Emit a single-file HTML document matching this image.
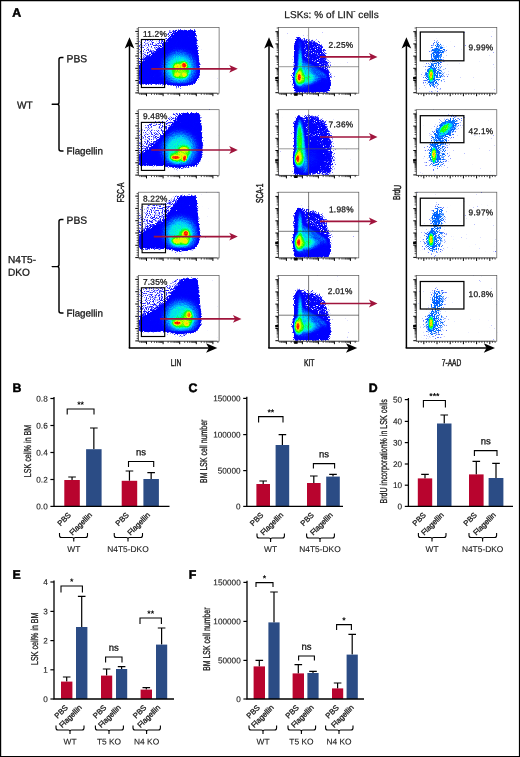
<!DOCTYPE html>
<html lang="en"><head><meta charset="utf-8"><title>Figure</title>
<style>
html,body{margin:0;padding:0;background:#fff;}
body{width:520px;height:757px;overflow:hidden;}
svg{display:block;font-family:"Liberation Sans",sans-serif;}
</style></head><body>
<svg width="520" height="757" viewBox="0 0 520 757">
<rect width="520" height="757" fill="#fff"/>
<defs><filter id="dens" x="0.21307" y="0.23866" width="0.57386" height="0.52267" color-interpolation-filters="sRGB">
  <feGaussianBlur in="SourceGraphic" stdDeviation="0.45" result="d"/>
  <feTurbulence type="fractalNoise" baseFrequency="0.93" numOctaves="2" seed="4" result="n"/>
  <feColorMatrix in="n" type="matrix" values="1 0 0 0 0  1 0 0 0 0  1 0 0 0 0  0 0 0 0 1" result="ng"/>
  <feColorMatrix in="n" type="matrix" values="0 1 0 0 0  0 1 0 0 0  0 1 0 0 0  0 0 0 0 1" result="ng2"/>
  <feComposite in="d" in2="ng" operator="arithmetic" k1="0" k2="2" k3="0.8" k4="-0.4" result="dn"/>
  <feColorMatrix in="dn" type="matrix" values="0 0 0 0 0  0 0 0 0 0  0 0 0 0 0  9 0 0 0 -2.2" result="mask"/>
  <feComposite in="d" in2="ng2" operator="arithmetic" k1="0" k2="1" k3="0.12" k4="-0.06" result="dc"/>
  <feComponentTransfer in="dc" result="col">
    <feFuncR type="table" tableValues="0.32 0.27 0.2 0.1 0.03 0 0 0 0 0 0 0 0 0 0.1 0.5 0.9 1 1 1 1"/>
    <feFuncG type="table" tableValues="0.32 0.27 0.2 0.1 0.03 0 0 0.02 0.1 0.3 0.55 0.8 1 1 1 1 1 0.9 0.6 0.3 0"/>
    <feFuncB type="table" tableValues="1 1 1 1 1 1 1 1 1 1 1 1 0.8 0.3 0 0 0 0 0 0 0"/>
  </feComponentTransfer>
  <feComposite in="col" in2="mask" operator="in" result="o"/>
  <feGaussianBlur in="o" stdDeviation="0.3"/>
</filter>
<filter id="dens3" x="0.21307" y="0.23866" width="0.57386" height="0.52267" color-interpolation-filters="sRGB">
  <feGaussianBlur in="SourceGraphic" stdDeviation="0.45" result="d"/>
  <feTurbulence type="fractalNoise" baseFrequency="0.93" numOctaves="2" seed="4" result="n"/>
  <feColorMatrix in="n" type="matrix" values="1 0 0 0 0  1 0 0 0 0  1 0 0 0 0  0 0 0 0 1" result="ng"/>
  <feColorMatrix in="n" type="matrix" values="0 1 0 0 0  0 1 0 0 0  0 1 0 0 0  0 0 0 0 1" result="ng2"/>
  <feComposite in="d" in2="ng" operator="arithmetic" k1="0" k2="1" k3="0.9" k4="-0.45" result="dn"/>
  <feColorMatrix in="dn" type="matrix" values="0 0 0 0 0  0 0 0 0 0  0 0 0 0 0  9 0 0 0 -2.2" result="mask"/>
  <feComposite in="d" in2="ng2" operator="arithmetic" k1="0" k2="1" k3="0.25" k4="-0.125" result="dc"/>
  <feComponentTransfer in="dc" result="col">
    <feFuncR type="table" tableValues="0.4 0.4 0.38 0.34 0.28 0 0 0 0 0 0 0 0 0 0.1 0.5 0.9 1 1 1 1"/>
    <feFuncG type="table" tableValues="0.45 0.45 0.45 0.45 0.42 0.4 0.4 0.42 0.45 0.3 0.55 0.8 1 1 1 1 1 0.9 0.6 0.3 0"/>
    <feFuncB type="table" tableValues="1 1 1 1 1 1 1 1 1 1 1 1 0.8 0.3 0 0 0 0 0 0 0"/>
  </feComponentTransfer>
  <feComposite in="col" in2="mask" operator="in" result="o"/>
  <feGaussianBlur in="o" stdDeviation="0.3"/>
</filter>

<filter id="s3" x="-50%" y="-50%" width="200%" height="200%"><feGaussianBlur stdDeviation="3.2"/></filter>
<filter id="s2" x="-50%" y="-50%" width="200%" height="200%"><feGaussianBlur stdDeviation="2"/></filter>
<filter id="s1" x="-50%" y="-50%" width="200%" height="200%"><feGaussianBlur stdDeviation="0.8"/></filter>
<radialGradient id="rg"><stop offset="0" stop-color="#fff" stop-opacity="1"/><stop offset="0.5" stop-color="#fff" stop-opacity="0.7"/><stop offset="1" stop-color="#fff" stop-opacity="0"/></radialGradient>
<radialGradient id="rg3"><stop offset="0" stop-color="#fff" stop-opacity="1"/><stop offset="0.45" stop-color="#fff" stop-opacity="0.9"/><stop offset="0.75" stop-color="#fff" stop-opacity="0.45"/><stop offset="1" stop-color="#fff" stop-opacity="0"/></radialGradient>
<linearGradient id="band" x1="1" y1="1" x2="0" y2="0"><stop offset="0.5" stop-color="#fff" stop-opacity="0.14"/><stop offset="0.62" stop-color="#fff" stop-opacity="0.125"/><stop offset="0.78" stop-color="#fff" stop-opacity="0.105"/><stop offset="0.95" stop-color="#fff" stop-opacity="0.075"/></linearGradient>
<radialGradient id="rg2"><stop offset="0" stop-color="#fff" stop-opacity="1"/><stop offset="0.6" stop-color="#fff" stop-opacity="0.9"/><stop offset="1" stop-color="#fff" stop-opacity="0"/></radialGradient>
</defs>

<g filter="url(#dens)"><rect x="108.30" y="-2.50" width="140.8" height="125.7" fill="#000"/>
<path d="M138.3,64.0L164.3,45.0L177.3,30.0h-9L165.3,38.5L138.3,40.0z" fill="url(#band)"/>
<polygon points="138.8,64.0 164.3,45.0 174.3,33.0 177.3,30.0 195.3,30.0 196.8,39.5 199.8,67.5 199.3,77.5 194.3,84.5 138.8,84.5" fill="#fff" fill-opacity="0.3" filter="url(#s1)"/>
<ellipse cx="179.3" cy="68.0" rx="22" ry="22" fill="url(#rg3)" fill-opacity="0.43"/>
<ellipse cx="180.6" cy="70.2" rx="11.5" ry="11.5" fill="url(#rg)" fill-opacity="0.27"/>
<ellipse cx="180.6" cy="70.2" rx="9.5" ry="9.5" fill="url(#rg2)" fill-opacity="0.2"/>
<ellipse cx="184.2" cy="65.2" rx="4.4" ry="4.6" fill="url(#rg)" fill-opacity="0.45"/>
<ellipse cx="184.2" cy="65.2" rx="3.0" ry="3.1999999999999997" fill="url(#rg2)" fill-opacity="0.9"/>
<ellipse cx="177.0" cy="66.2" rx="4.8" ry="4.2" fill="url(#rg)" fill-opacity="0.32"/>
<ellipse cx="177.0" cy="66.2" rx="3.4" ry="2.8" fill="url(#rg)" fill-opacity="0.21"/>
<ellipse cx="176.8" cy="75.0" rx="4.8" ry="3.8" fill="url(#rg)" fill-opacity="0.32"/>
<ellipse cx="176.8" cy="75.0" rx="3.4" ry="2.4" fill="url(#rg)" fill-opacity="0.21"/>
<ellipse cx="184.5" cy="75.0" rx="4.2" ry="4.0" fill="url(#rg)" fill-opacity="0.32"/>
<ellipse cx="184.5" cy="75.0" rx="2.8" ry="2.6" fill="url(#rg)" fill-opacity="0.27999999999999997"/>
</g>
<rect x="138.30" y="27.50" width="80.80" height="65.70" fill="none" stroke="#555" stroke-width="0.7"/>
<path d="M146.5,93.2v3 M163.1,93.2v3 M179.7,93.2v3 M196.3,93.2v3 M212.9,93.2v3 M138.3,92.9h-3 M138.3,80.6h-3 M138.3,68.3h-3 M138.3,56.0h-3 M138.3,43.7h-3 M138.3,31.4h-3" stroke="#000" stroke-width="1" fill="none"/>
<path d="M139.9,93.2v1.7 M141.5,93.2v1.7 M142.8,93.2v1.7 M143.9,93.2v1.7 M144.9,93.2v1.7 M145.7,93.2v1.7 M151.5,93.2v1.7 M154.4,93.2v1.7 M156.5,93.2v1.7 M158.1,93.2v1.7 M159.4,93.2v1.7 M160.5,93.2v1.7 M161.5,93.2v1.7 M162.3,93.2v1.7 M168.1,93.2v1.7 M171.0,93.2v1.7 M173.1,93.2v1.7 M174.7,93.2v1.7 M176.0,93.2v1.7 M177.1,93.2v1.7 M178.1,93.2v1.7 M178.9,93.2v1.7 M184.7,93.2v1.7 M187.6,93.2v1.7 M189.7,93.2v1.7 M191.3,93.2v1.7 M192.6,93.2v1.7 M193.7,93.2v1.7 M194.7,93.2v1.7 M195.5,93.2v1.7 M201.3,93.2v1.7 M204.2,93.2v1.7 M206.3,93.2v1.7 M207.9,93.2v1.7 M209.2,93.2v1.7 M210.3,93.2v1.7 M211.3,93.2v1.7 M212.1,93.2v1.7 M217.9,93.2v1.7 M138.3,90.4h-1.7 M138.3,88.0h-1.7 M138.3,85.5h-1.7 M138.3,83.1h-1.7 M138.3,78.1h-1.7 M138.3,75.7h-1.7 M138.3,73.2h-1.7 M138.3,70.8h-1.7 M138.3,65.8h-1.7 M138.3,63.4h-1.7 M138.3,60.9h-1.7 M138.3,58.5h-1.7 M138.3,53.5h-1.7 M138.3,51.1h-1.7 M138.3,48.6h-1.7 M138.3,46.2h-1.7 M138.3,41.2h-1.7 M138.3,38.8h-1.7 M138.3,36.3h-1.7 M138.3,33.9h-1.7 M138.3,28.9h-1.7" stroke="#000" stroke-width="0.7" fill="none"/>
<path d="M138.3,93.20h78.8M138.30,29.5v63.7" stroke="#333" stroke-width="0.6" fill="none"/>
<rect x="141.4" y="39.5" width="23.2" height="48" fill="none" stroke="#000" stroke-width="1.15"/>
<text transform="translate(142.90,36.70) rotate(0.03)" font-size="8.3" text-anchor="start" font-weight="normal" fill="#1a1a1a" letter-spacing="0.25" stroke="#1a1a1a" stroke-width="0.28">11.2%</text>
<path d="M151.3,68.8H232.8" stroke="#a0143c" stroke-width="1.7" fill="none"/>
<path d="M237.8,68.8l-8.6,-3.9l2.2,3.9l-2.2,3.9z" fill="#a0143c"/>
<g filter="url(#dens)"><rect x="108.30" y="79.70" width="140.8" height="125.7" fill="#000"/>
<path d="M138.3,155.7L164.3,135.7L182.3,112.7h-9L165.3,120.7L138.3,122.2z" fill="url(#band)"/>
<polygon points="138.8,155.7 164.3,135.7 179.3,115.7 182.3,112.7 199.3,112.7 201.3,121.7 202.8,149.7 201.3,159.7 196.3,166.0 138.8,166.0" fill="#fff" fill-opacity="0.3" filter="url(#s1)"/>
<ellipse cx="179.3" cy="149.2" rx="23" ry="23" fill="url(#rg3)" fill-opacity="0.43"/>
<ellipse cx="177.3" cy="157.2" rx="11" ry="7.5" fill="url(#rg)" fill-opacity="0.27"/>
<ellipse cx="183.8" cy="151.7" rx="9" ry="8.5" fill="url(#rg)" fill-opacity="0.27"/>
<ellipse cx="177.3" cy="157.2" rx="9" ry="5.5" fill="url(#rg2)" fill-opacity="0.2"/>
<ellipse cx="183.8" cy="151.7" rx="7" ry="6.5" fill="url(#rg2)" fill-opacity="0.2"/>
<ellipse cx="175.5" cy="157.5" rx="6.3999999999999995" ry="3.5" fill="url(#rg)" fill-opacity="0.45"/>
<ellipse cx="175.5" cy="157.5" rx="5.0" ry="2.1" fill="url(#rg2)" fill-opacity="0.85"/>
<ellipse cx="184.6" cy="158.4" rx="3.6" ry="5.0" fill="url(#rg)" fill-opacity="0.45" transform="rotate(15 184.6 158.4)"/>
<ellipse cx="184.6" cy="158.4" rx="2.2" ry="3.6" fill="url(#rg2)" fill-opacity="0.9" transform="rotate(15 184.6 158.4)"/>
<ellipse cx="184.3" cy="149.2" rx="6.3" ry="3.8" fill="url(#rg)" fill-opacity="0.32"/>
<ellipse cx="184.3" cy="149.2" rx="4.9" ry="2.4" fill="url(#rg)" fill-opacity="0.13999999999999999"/>
</g>
<rect x="138.30" y="109.70" width="80.80" height="65.70" fill="none" stroke="#555" stroke-width="0.7"/>
<path d="M146.5,175.4v3 M163.1,175.4v3 M179.7,175.4v3 M196.3,175.4v3 M212.9,175.4v3 M138.3,175.1h-3 M138.3,162.8h-3 M138.3,150.5h-3 M138.3,138.2h-3 M138.3,125.9h-3 M138.3,113.6h-3" stroke="#000" stroke-width="1" fill="none"/>
<path d="M139.9,175.4v1.7 M141.5,175.4v1.7 M142.8,175.4v1.7 M143.9,175.4v1.7 M144.9,175.4v1.7 M145.7,175.4v1.7 M151.5,175.4v1.7 M154.4,175.4v1.7 M156.5,175.4v1.7 M158.1,175.4v1.7 M159.4,175.4v1.7 M160.5,175.4v1.7 M161.5,175.4v1.7 M162.3,175.4v1.7 M168.1,175.4v1.7 M171.0,175.4v1.7 M173.1,175.4v1.7 M174.7,175.4v1.7 M176.0,175.4v1.7 M177.1,175.4v1.7 M178.1,175.4v1.7 M178.9,175.4v1.7 M184.7,175.4v1.7 M187.6,175.4v1.7 M189.7,175.4v1.7 M191.3,175.4v1.7 M192.6,175.4v1.7 M193.7,175.4v1.7 M194.7,175.4v1.7 M195.5,175.4v1.7 M201.3,175.4v1.7 M204.2,175.4v1.7 M206.3,175.4v1.7 M207.9,175.4v1.7 M209.2,175.4v1.7 M210.3,175.4v1.7 M211.3,175.4v1.7 M212.1,175.4v1.7 M217.9,175.4v1.7 M138.3,172.6h-1.7 M138.3,170.2h-1.7 M138.3,167.7h-1.7 M138.3,165.3h-1.7 M138.3,160.3h-1.7 M138.3,157.9h-1.7 M138.3,155.4h-1.7 M138.3,153.0h-1.7 M138.3,148.0h-1.7 M138.3,145.6h-1.7 M138.3,143.1h-1.7 M138.3,140.7h-1.7 M138.3,135.7h-1.7 M138.3,133.3h-1.7 M138.3,130.8h-1.7 M138.3,128.4h-1.7 M138.3,123.4h-1.7 M138.3,121.0h-1.7 M138.3,118.5h-1.7 M138.3,116.1h-1.7 M138.3,111.1h-1.7" stroke="#000" stroke-width="0.7" fill="none"/>
<path d="M138.3,175.40h78.8M138.30,111.7v63.7" stroke="#333" stroke-width="0.6" fill="none"/>
<rect x="141.4" y="122.4" width="23.2" height="48" fill="none" stroke="#000" stroke-width="1.15"/>
<text transform="translate(142.90,118.90) rotate(0.03)" font-size="8.3" text-anchor="start" font-weight="normal" fill="#1a1a1a" letter-spacing="0.25" stroke="#1a1a1a" stroke-width="0.28">9.48%</text>
<path d="M151.3,150.0H232.8" stroke="#a0143c" stroke-width="1.7" fill="none"/>
<path d="M237.8,150.0l-8.6,-3.9l2.2,3.9l-2.2,3.9z" fill="#a0143c"/>
<g filter="url(#dens)"><rect x="108.30" y="162.20" width="140.8" height="125.7" fill="#000"/>
<path d="M138.3,233.7L164.3,220.2L182.3,195.4h-9L165.3,203.2L138.3,204.7z" fill="url(#band)"/>
<polygon points="138.8,233.7 164.3,220.2 179.3,198.4 182.3,195.4 196.3,195.4 197.3,204.2 199.3,232.2 198.8,242.2 194.3,249.0 138.8,249.0" fill="#fff" fill-opacity="0.3" filter="url(#s1)"/>
<ellipse cx="180.3" cy="233.7" rx="22" ry="22" fill="url(#rg3)" fill-opacity="0.43"/>
<ellipse cx="185.3" cy="236.7" rx="8" ry="10.5" fill="url(#rg)" fill-opacity="0.27"/>
<ellipse cx="178.3" cy="240.7" rx="10" ry="7" fill="url(#rg)" fill-opacity="0.27"/>
<ellipse cx="185.3" cy="236.7" rx="6" ry="8.5" fill="url(#rg2)" fill-opacity="0.2"/>
<ellipse cx="178.3" cy="240.7" rx="8" ry="5" fill="url(#rg2)" fill-opacity="0.2"/>
<ellipse cx="185.9" cy="233.5" rx="4.4" ry="4.6" fill="url(#rg)" fill-opacity="0.45"/>
<ellipse cx="185.9" cy="233.5" rx="3.0" ry="3.1999999999999997" fill="url(#rg2)" fill-opacity="0.9"/>
<ellipse cx="176.4" cy="241.2" rx="5.4" ry="3.8" fill="url(#rg)" fill-opacity="0.32"/>
<ellipse cx="176.4" cy="241.2" rx="4.0" ry="2.4" fill="url(#rg)" fill-opacity="0.24499999999999997"/>
<ellipse cx="186.0" cy="242.0" rx="4.0" ry="4.2" fill="url(#rg)" fill-opacity="0.32"/>
<ellipse cx="186.0" cy="242.0" rx="2.6" ry="2.8" fill="url(#rg)" fill-opacity="0.21"/>
</g>
<rect x="138.30" y="192.20" width="80.80" height="65.70" fill="none" stroke="#555" stroke-width="0.7"/>
<path d="M146.5,257.9v3 M163.1,257.9v3 M179.7,257.9v3 M196.3,257.9v3 M212.9,257.9v3 M138.3,257.6h-3 M138.3,245.3h-3 M138.3,233.0h-3 M138.3,220.7h-3 M138.3,208.4h-3 M138.3,196.1h-3" stroke="#000" stroke-width="1" fill="none"/>
<path d="M139.9,257.9v1.7 M141.5,257.9v1.7 M142.8,257.9v1.7 M143.9,257.9v1.7 M144.9,257.9v1.7 M145.7,257.9v1.7 M151.5,257.9v1.7 M154.4,257.9v1.7 M156.5,257.9v1.7 M158.1,257.9v1.7 M159.4,257.9v1.7 M160.5,257.9v1.7 M161.5,257.9v1.7 M162.3,257.9v1.7 M168.1,257.9v1.7 M171.0,257.9v1.7 M173.1,257.9v1.7 M174.7,257.9v1.7 M176.0,257.9v1.7 M177.1,257.9v1.7 M178.1,257.9v1.7 M178.9,257.9v1.7 M184.7,257.9v1.7 M187.6,257.9v1.7 M189.7,257.9v1.7 M191.3,257.9v1.7 M192.6,257.9v1.7 M193.7,257.9v1.7 M194.7,257.9v1.7 M195.5,257.9v1.7 M201.3,257.9v1.7 M204.2,257.9v1.7 M206.3,257.9v1.7 M207.9,257.9v1.7 M209.2,257.9v1.7 M210.3,257.9v1.7 M211.3,257.9v1.7 M212.1,257.9v1.7 M217.9,257.9v1.7 M138.3,255.1h-1.7 M138.3,252.7h-1.7 M138.3,250.2h-1.7 M138.3,247.8h-1.7 M138.3,242.8h-1.7 M138.3,240.4h-1.7 M138.3,237.9h-1.7 M138.3,235.5h-1.7 M138.3,230.5h-1.7 M138.3,228.1h-1.7 M138.3,225.6h-1.7 M138.3,223.2h-1.7 M138.3,218.2h-1.7 M138.3,215.8h-1.7 M138.3,213.3h-1.7 M138.3,210.9h-1.7 M138.3,205.9h-1.7 M138.3,203.5h-1.7 M138.3,201.0h-1.7 M138.3,198.6h-1.7 M138.3,193.6h-1.7" stroke="#000" stroke-width="0.7" fill="none"/>
<path d="M138.3,257.90h78.8M138.30,194.2v63.7" stroke="#333" stroke-width="0.6" fill="none"/>
<rect x="142.1" y="204.1" width="23.4" height="48.6" fill="none" stroke="#000" stroke-width="1.15"/>
<text transform="translate(142.90,201.40) rotate(0.03)" font-size="8.3" text-anchor="start" font-weight="normal" fill="#1a1a1a" letter-spacing="0.25" stroke="#1a1a1a" stroke-width="0.28">8.22%</text>
<path d="M153.8,236.6H232.8" stroke="#a0143c" stroke-width="1.7" fill="none"/>
<path d="M237.8,236.6l-8.6,-3.9l2.2,3.9l-2.2,3.9z" fill="#a0143c"/>
<g filter="url(#dens)"><rect x="108.30" y="245.50" width="140.8" height="125.7" fill="#000"/>
<path d="M138.3,318.5L164.3,304.0L184.3,278.5h-9L165.3,286.5L138.3,288.0z" fill="url(#band)"/>
<polygon points="138.8,318.5 164.3,304.0 181.3,281.5 184.3,278.5 197.3,278.5 198.8,287.5 200.8,315.5 200.3,325.5 195.3,332.1 138.8,332.1" fill="#fff" fill-opacity="0.3" filter="url(#s1)"/>
<ellipse cx="181.3" cy="317.0" rx="23" ry="22" fill="url(#rg3)" fill-opacity="0.43"/>
<ellipse cx="187.8" cy="318.5" rx="7.5" ry="11.5" fill="url(#rg)" fill-opacity="0.27"/>
<ellipse cx="179.3" cy="323.0" rx="10.5" ry="7" fill="url(#rg)" fill-opacity="0.27"/>
<ellipse cx="187.8" cy="318.5" rx="5.5" ry="9.5" fill="url(#rg2)" fill-opacity="0.2"/>
<ellipse cx="179.3" cy="323.0" rx="8.5" ry="5" fill="url(#rg2)" fill-opacity="0.2"/>
<ellipse cx="177.3" cy="323.0" rx="5.6" ry="3.4000000000000004" fill="url(#rg)" fill-opacity="0.45"/>
<ellipse cx="177.3" cy="323.0" rx="4.2" ry="2.0" fill="url(#rg2)" fill-opacity="0.9"/>
<ellipse cx="189.0" cy="314.8" rx="3.6" ry="4.8" fill="url(#rg)" fill-opacity="0.45"/>
<ellipse cx="189.0" cy="314.8" rx="2.2" ry="3.4" fill="url(#rg2)" fill-opacity="0.55"/>
<ellipse cx="186.8" cy="324.3" rx="4.0" ry="4.2" fill="url(#rg)" fill-opacity="0.32"/>
<ellipse cx="186.8" cy="324.3" rx="2.6" ry="2.8" fill="url(#rg)" fill-opacity="0.21"/>
</g>
<rect x="138.30" y="275.50" width="80.80" height="65.70" fill="none" stroke="#555" stroke-width="0.7"/>
<path d="M146.5,341.2v3 M163.1,341.2v3 M179.7,341.2v3 M196.3,341.2v3 M212.9,341.2v3 M138.3,340.9h-3 M138.3,328.6h-3 M138.3,316.3h-3 M138.3,304.0h-3 M138.3,291.7h-3 M138.3,279.4h-3" stroke="#000" stroke-width="1" fill="none"/>
<path d="M139.9,341.2v1.7 M141.5,341.2v1.7 M142.8,341.2v1.7 M143.9,341.2v1.7 M144.9,341.2v1.7 M145.7,341.2v1.7 M151.5,341.2v1.7 M154.4,341.2v1.7 M156.5,341.2v1.7 M158.1,341.2v1.7 M159.4,341.2v1.7 M160.5,341.2v1.7 M161.5,341.2v1.7 M162.3,341.2v1.7 M168.1,341.2v1.7 M171.0,341.2v1.7 M173.1,341.2v1.7 M174.7,341.2v1.7 M176.0,341.2v1.7 M177.1,341.2v1.7 M178.1,341.2v1.7 M178.9,341.2v1.7 M184.7,341.2v1.7 M187.6,341.2v1.7 M189.7,341.2v1.7 M191.3,341.2v1.7 M192.6,341.2v1.7 M193.7,341.2v1.7 M194.7,341.2v1.7 M195.5,341.2v1.7 M201.3,341.2v1.7 M204.2,341.2v1.7 M206.3,341.2v1.7 M207.9,341.2v1.7 M209.2,341.2v1.7 M210.3,341.2v1.7 M211.3,341.2v1.7 M212.1,341.2v1.7 M217.9,341.2v1.7 M138.3,338.4h-1.7 M138.3,336.0h-1.7 M138.3,333.5h-1.7 M138.3,331.1h-1.7 M138.3,326.1h-1.7 M138.3,323.7h-1.7 M138.3,321.2h-1.7 M138.3,318.8h-1.7 M138.3,313.8h-1.7 M138.3,311.4h-1.7 M138.3,308.9h-1.7 M138.3,306.5h-1.7 M138.3,301.5h-1.7 M138.3,299.1h-1.7 M138.3,296.6h-1.7 M138.3,294.2h-1.7 M138.3,289.2h-1.7 M138.3,286.8h-1.7 M138.3,284.3h-1.7 M138.3,281.9h-1.7 M138.3,276.9h-1.7" stroke="#000" stroke-width="0.7" fill="none"/>
<path d="M138.3,341.20h78.8M138.30,277.5v63.7" stroke="#333" stroke-width="0.6" fill="none"/>
<rect x="141.4" y="287.8" width="23.3" height="48.7" fill="none" stroke="#000" stroke-width="1.15"/>
<text transform="translate(142.90,284.70) rotate(0.03)" font-size="8.3" text-anchor="start" font-weight="normal" fill="#1a1a1a" letter-spacing="0.25" stroke="#1a1a1a" stroke-width="0.28">7.35%</text>
<path d="M160.0,318.9H236.5" stroke="#a0143c" stroke-width="1.7" fill="none"/>
<path d="M241.5,318.9l-8.6,-3.9l2.2,3.9l-2.2,3.9z" fill="#a0143c"/>
<g filter="url(#dens)"><rect x="248.40" y="-2.50" width="140.8" height="125.7" fill="#000"/>
<polygon points="298.4,37.9 312.4,38.9 323.4,44.9 328.4,61.5 332.4,79.5 308.4,77.5 298.4,67.5" fill="#fff" fill-opacity="0.22" filter="url(#s2)"/>
<polygon points="293.9,43.9 298.2,35.9 301.9,41.9 303.4,59.5 316.4,66.5 326.4,73.5 331.4,83.5 328.9,92.5 293.9,92.5" fill="#fff" fill-opacity="0.3" filter="url(#s1)"/>
<ellipse cx="302.4" cy="77.5" rx="13" ry="15" fill="url(#rg)" fill-opacity="0.33"/>
<ellipse cx="299.9" cy="63.5" rx="3" ry="17" fill="url(#rg)" fill-opacity="0.3"/>
<ellipse cx="310.4" cy="79.5" rx="12" ry="6.5" fill="url(#rg)" fill-opacity="0.3"/>
<ellipse cx="299.6" cy="77.3" rx="6.2" ry="10" fill="url(#rg2)" fill-opacity="0.45"/>
<ellipse cx="299.1" cy="77.3" rx="3.6" ry="6.8" fill="url(#rg)" fill-opacity="0.5"/>
<ellipse cx="299.1" cy="77.3" rx="2" ry="4.2" fill="url(#rg2)" fill-opacity="0.9"/>
</g>
<rect x="278.40" y="27.50" width="80.40" height="65.70" fill="none" stroke="#555" stroke-width="0.7"/>
<path d="M286.4,93.2v3 M302.4,93.2v3 M318.4,93.2v3 M334.4,93.2v3 M350.4,93.2v3 M278.4,92.7h-3 M278.4,80.5h-3 M278.4,68.3h-3 M278.4,56.1h-3 M278.4,43.9h-3 M278.4,31.7h-3" stroke="#000" stroke-width="1" fill="none"/>
<path d="M280.0,93.2v1.7 M281.6,93.2v1.7 M282.9,93.2v1.7 M283.9,93.2v1.7 M284.8,93.2v1.7 M285.7,93.2v1.7 M291.2,93.2v1.7 M294.0,93.2v1.7 M296.0,93.2v1.7 M297.6,93.2v1.7 M298.9,93.2v1.7 M299.9,93.2v1.7 M300.8,93.2v1.7 M301.7,93.2v1.7 M307.2,93.2v1.7 M310.0,93.2v1.7 M312.0,93.2v1.7 M313.6,93.2v1.7 M314.9,93.2v1.7 M315.9,93.2v1.7 M316.8,93.2v1.7 M317.7,93.2v1.7 M323.2,93.2v1.7 M326.0,93.2v1.7 M328.0,93.2v1.7 M329.6,93.2v1.7 M330.9,93.2v1.7 M331.9,93.2v1.7 M332.8,93.2v1.7 M333.7,93.2v1.7 M339.2,93.2v1.7 M342.0,93.2v1.7 M344.0,93.2v1.7 M345.6,93.2v1.7 M346.9,93.2v1.7 M347.9,93.2v1.7 M348.8,93.2v1.7 M349.7,93.2v1.7 M355.2,93.2v1.7 M278.4,89.0h-1.7 M278.4,86.9h-1.7 M278.4,85.4h-1.7 M278.4,84.2h-1.7 M278.4,83.2h-1.7 M278.4,82.4h-1.7 M278.4,81.7h-1.7 M278.4,81.1h-1.7 M278.4,76.8h-1.7 M278.4,74.7h-1.7 M278.4,73.2h-1.7 M278.4,72.0h-1.7 M278.4,71.0h-1.7 M278.4,70.2h-1.7 M278.4,69.5h-1.7 M278.4,68.9h-1.7 M278.4,64.6h-1.7 M278.4,62.5h-1.7 M278.4,61.0h-1.7 M278.4,59.8h-1.7 M278.4,58.8h-1.7 M278.4,58.0h-1.7 M278.4,57.3h-1.7 M278.4,56.7h-1.7 M278.4,52.4h-1.7 M278.4,50.3h-1.7 M278.4,48.8h-1.7 M278.4,47.6h-1.7 M278.4,46.6h-1.7 M278.4,45.8h-1.7 M278.4,45.1h-1.7 M278.4,44.5h-1.7 M278.4,40.2h-1.7 M278.4,38.1h-1.7 M278.4,36.6h-1.7 M278.4,35.4h-1.7 M278.4,34.4h-1.7 M278.4,33.6h-1.7 M278.4,32.9h-1.7 M278.4,32.3h-1.7 M278.4,28.0h-1.7" stroke="#000" stroke-width="0.7" fill="none"/>
<path d="M278.4,93.20h78.4M278.40,29.5v63.7" stroke="#333" stroke-width="0.6" fill="none"/>
<rect x="275.2" y="77.0" width="3.2" height="2.4" fill="#000"/>
<rect x="294.1" y="93.2" width="3.5" height="2.6" fill="#000"/>
<path d="M278.4,66.7h80.4M308.6,27.5v65.7" stroke="#555" stroke-width="0.6" fill="none"/>
<text transform="translate(328.60,47.70) rotate(0.03)" font-size="8.3" text-anchor="start" font-weight="normal" fill="#1a1a1a" letter-spacing="0.25" stroke="#1a1a1a" stroke-width="0.28">2.25%</text>
<path d="M319.9,56.9H372.5" stroke="#a0143c" stroke-width="1.7" fill="none"/>
<path d="M377.5,56.9l-8.6,-3.9l2.2,3.9l-2.2,3.9z" fill="#a0143c"/>
<g filter="url(#dens)"><rect x="248.40" y="79.70" width="140.8" height="125.7" fill="#000"/>
<polygon points="302.4,115.7 313.4,114.7 325.4,120.7 331.4,135.7 333.9,159.7 331.4,174.7 302.4,174.7" fill="#fff" fill-opacity="0.235" filter="url(#s2)"/>
<polygon points="293.9,122.7 298.2,114.7 302.4,119.7 305.4,139.7 308.4,174.7 293.9,174.7" fill="#fff" fill-opacity="0.3" filter="url(#s1)"/>
<ellipse cx="299.9" cy="143.7" rx="6" ry="31" fill="url(#rg)" fill-opacity="0.45"/>
<ellipse cx="299.4" cy="139.7" rx="3" ry="21" fill="url(#rg2)" fill-opacity="0.27"/>
<ellipse cx="311.4" cy="157.7" rx="14" ry="16" fill="url(#rg)" fill-opacity="0.2"/>
<ellipse cx="298.2" cy="158.7" rx="6.2" ry="10" fill="url(#rg2)" fill-opacity="0.45"/>
<ellipse cx="297.7" cy="158.7" rx="3.6" ry="6.8" fill="url(#rg)" fill-opacity="0.5"/>
<ellipse cx="297.7" cy="158.7" rx="2" ry="4.2" fill="url(#rg2)" fill-opacity="0.9"/>
</g>
<rect x="278.40" y="109.70" width="80.40" height="65.70" fill="none" stroke="#555" stroke-width="0.7"/>
<path d="M286.4,175.4v3 M302.4,175.4v3 M318.4,175.4v3 M334.4,175.4v3 M350.4,175.4v3 M278.4,174.9h-3 M278.4,162.7h-3 M278.4,150.5h-3 M278.4,138.3h-3 M278.4,126.1h-3 M278.4,113.9h-3" stroke="#000" stroke-width="1" fill="none"/>
<path d="M280.0,175.4v1.7 M281.6,175.4v1.7 M282.9,175.4v1.7 M283.9,175.4v1.7 M284.8,175.4v1.7 M285.7,175.4v1.7 M291.2,175.4v1.7 M294.0,175.4v1.7 M296.0,175.4v1.7 M297.6,175.4v1.7 M298.9,175.4v1.7 M299.9,175.4v1.7 M300.8,175.4v1.7 M301.7,175.4v1.7 M307.2,175.4v1.7 M310.0,175.4v1.7 M312.0,175.4v1.7 M313.6,175.4v1.7 M314.9,175.4v1.7 M315.9,175.4v1.7 M316.8,175.4v1.7 M317.7,175.4v1.7 M323.2,175.4v1.7 M326.0,175.4v1.7 M328.0,175.4v1.7 M329.6,175.4v1.7 M330.9,175.4v1.7 M331.9,175.4v1.7 M332.8,175.4v1.7 M333.7,175.4v1.7 M339.2,175.4v1.7 M342.0,175.4v1.7 M344.0,175.4v1.7 M345.6,175.4v1.7 M346.9,175.4v1.7 M347.9,175.4v1.7 M348.8,175.4v1.7 M349.7,175.4v1.7 M355.2,175.4v1.7 M278.4,171.2h-1.7 M278.4,169.1h-1.7 M278.4,167.6h-1.7 M278.4,166.4h-1.7 M278.4,165.4h-1.7 M278.4,164.6h-1.7 M278.4,163.9h-1.7 M278.4,163.3h-1.7 M278.4,159.0h-1.7 M278.4,156.9h-1.7 M278.4,155.4h-1.7 M278.4,154.2h-1.7 M278.4,153.2h-1.7 M278.4,152.4h-1.7 M278.4,151.7h-1.7 M278.4,151.1h-1.7 M278.4,146.8h-1.7 M278.4,144.7h-1.7 M278.4,143.2h-1.7 M278.4,142.0h-1.7 M278.4,141.0h-1.7 M278.4,140.2h-1.7 M278.4,139.5h-1.7 M278.4,138.9h-1.7 M278.4,134.6h-1.7 M278.4,132.5h-1.7 M278.4,131.0h-1.7 M278.4,129.8h-1.7 M278.4,128.8h-1.7 M278.4,128.0h-1.7 M278.4,127.3h-1.7 M278.4,126.7h-1.7 M278.4,122.4h-1.7 M278.4,120.3h-1.7 M278.4,118.8h-1.7 M278.4,117.6h-1.7 M278.4,116.6h-1.7 M278.4,115.8h-1.7 M278.4,115.1h-1.7 M278.4,114.5h-1.7 M278.4,110.2h-1.7" stroke="#000" stroke-width="0.7" fill="none"/>
<path d="M278.4,175.40h78.4M278.40,111.7v63.7" stroke="#333" stroke-width="0.6" fill="none"/>
<rect x="275.2" y="159.2" width="3.2" height="2.4" fill="#000"/>
<rect x="294.1" y="175.4" width="3.5" height="2.6" fill="#000"/>
<path d="M278.4,148.8h80.4M308.6,109.7v65.7" stroke="#555" stroke-width="0.6" fill="none"/>
<text transform="translate(328.60,127.20) rotate(0.03)" font-size="8.3" text-anchor="start" font-weight="normal" fill="#1a1a1a" letter-spacing="0.25" stroke="#1a1a1a" stroke-width="0.28">7.36%</text>
<path d="M319.9,137.0H372.5" stroke="#a0143c" stroke-width="1.7" fill="none"/>
<path d="M377.5,137.0l-8.6,-3.9l2.2,3.9l-2.2,3.9z" fill="#a0143c"/>
<g filter="url(#dens)"><rect x="248.40" y="162.20" width="140.8" height="125.7" fill="#000"/>
<polygon points="298.4,208.2 312.4,209.2 323.4,215.2 328.4,226.2 332.4,244.2 308.4,242.2 298.4,232.2" fill="#fff" fill-opacity="0.22" filter="url(#s2)"/>
<polygon points="293.9,214.2 298.2,206.2 301.9,212.2 303.4,224.2 316.4,231.2 326.4,238.2 331.4,248.2 328.9,257.2 293.9,257.2" fill="#fff" fill-opacity="0.3" filter="url(#s1)"/>
<ellipse cx="302.4" cy="242.2" rx="13" ry="15" fill="url(#rg)" fill-opacity="0.33"/>
<ellipse cx="299.9" cy="228.2" rx="3" ry="17" fill="url(#rg)" fill-opacity="0.3"/>
<ellipse cx="310.4" cy="244.2" rx="12" ry="6.5" fill="url(#rg)" fill-opacity="0.3"/>
<ellipse cx="299.2" cy="242.5" rx="6.2" ry="10" fill="url(#rg2)" fill-opacity="0.45"/>
<ellipse cx="298.7" cy="242.5" rx="3.6" ry="6.8" fill="url(#rg)" fill-opacity="0.5"/>
<ellipse cx="298.7" cy="242.5" rx="2" ry="4.2" fill="url(#rg2)" fill-opacity="0.9"/>
</g>
<rect x="278.40" y="192.20" width="80.40" height="65.70" fill="none" stroke="#555" stroke-width="0.7"/>
<path d="M286.4,257.9v3 M302.4,257.9v3 M318.4,257.9v3 M334.4,257.9v3 M350.4,257.9v3 M278.4,257.4h-3 M278.4,245.2h-3 M278.4,233.0h-3 M278.4,220.8h-3 M278.4,208.6h-3 M278.4,196.4h-3" stroke="#000" stroke-width="1" fill="none"/>
<path d="M280.0,257.9v1.7 M281.6,257.9v1.7 M282.9,257.9v1.7 M283.9,257.9v1.7 M284.8,257.9v1.7 M285.7,257.9v1.7 M291.2,257.9v1.7 M294.0,257.9v1.7 M296.0,257.9v1.7 M297.6,257.9v1.7 M298.9,257.9v1.7 M299.9,257.9v1.7 M300.8,257.9v1.7 M301.7,257.9v1.7 M307.2,257.9v1.7 M310.0,257.9v1.7 M312.0,257.9v1.7 M313.6,257.9v1.7 M314.9,257.9v1.7 M315.9,257.9v1.7 M316.8,257.9v1.7 M317.7,257.9v1.7 M323.2,257.9v1.7 M326.0,257.9v1.7 M328.0,257.9v1.7 M329.6,257.9v1.7 M330.9,257.9v1.7 M331.9,257.9v1.7 M332.8,257.9v1.7 M333.7,257.9v1.7 M339.2,257.9v1.7 M342.0,257.9v1.7 M344.0,257.9v1.7 M345.6,257.9v1.7 M346.9,257.9v1.7 M347.9,257.9v1.7 M348.8,257.9v1.7 M349.7,257.9v1.7 M355.2,257.9v1.7 M278.4,253.7h-1.7 M278.4,251.6h-1.7 M278.4,250.1h-1.7 M278.4,248.9h-1.7 M278.4,247.9h-1.7 M278.4,247.1h-1.7 M278.4,246.4h-1.7 M278.4,245.8h-1.7 M278.4,241.5h-1.7 M278.4,239.4h-1.7 M278.4,237.9h-1.7 M278.4,236.7h-1.7 M278.4,235.7h-1.7 M278.4,234.9h-1.7 M278.4,234.2h-1.7 M278.4,233.6h-1.7 M278.4,229.3h-1.7 M278.4,227.2h-1.7 M278.4,225.7h-1.7 M278.4,224.5h-1.7 M278.4,223.5h-1.7 M278.4,222.7h-1.7 M278.4,222.0h-1.7 M278.4,221.4h-1.7 M278.4,217.1h-1.7 M278.4,215.0h-1.7 M278.4,213.5h-1.7 M278.4,212.3h-1.7 M278.4,211.3h-1.7 M278.4,210.5h-1.7 M278.4,209.8h-1.7 M278.4,209.2h-1.7 M278.4,204.9h-1.7 M278.4,202.8h-1.7 M278.4,201.3h-1.7 M278.4,200.1h-1.7 M278.4,199.1h-1.7 M278.4,198.3h-1.7 M278.4,197.6h-1.7 M278.4,197.0h-1.7 M278.4,192.7h-1.7" stroke="#000" stroke-width="0.7" fill="none"/>
<path d="M278.4,257.90h78.4M278.40,194.2v63.7" stroke="#333" stroke-width="0.6" fill="none"/>
<rect x="275.2" y="241.7" width="3.2" height="2.4" fill="#000"/>
<rect x="294.1" y="257.9" width="3.5" height="2.6" fill="#000"/>
<path d="M278.4,231.3h80.4M308.6,192.2v65.7" stroke="#222" stroke-width="0.6" fill="none"/>
<text transform="translate(329.00,212.20) rotate(0.03)" font-size="8.3" text-anchor="start" font-weight="normal" fill="#1a1a1a" letter-spacing="0.25" stroke="#1a1a1a" stroke-width="0.28">1.98%</text>
<path d="M319.9,221.39999999999998H372.5" stroke="#a0143c" stroke-width="1.7" fill="none"/>
<path d="M377.5,221.39999999999998l-8.6,-3.9l2.2,3.9l-2.2,3.9z" fill="#a0143c"/>
<g filter="url(#dens)"><rect x="248.40" y="245.50" width="140.8" height="125.7" fill="#000"/>
<polygon points="298.4,289.9 312.4,290.9 323.4,296.9 328.4,309.5 332.4,327.5 308.4,325.5 298.4,315.5" fill="#fff" fill-opacity="0.22" filter="url(#s2)"/>
<polygon points="293.9,295.9 298.2,287.9 301.9,293.9 303.4,307.5 316.4,314.5 326.4,321.5 331.4,331.5 328.9,340.5 293.9,340.5" fill="#fff" fill-opacity="0.3" filter="url(#s1)"/>
<ellipse cx="302.4" cy="325.5" rx="13" ry="15" fill="url(#rg)" fill-opacity="0.33"/>
<ellipse cx="299.9" cy="311.5" rx="3" ry="17" fill="url(#rg)" fill-opacity="0.3"/>
<ellipse cx="310.4" cy="327.5" rx="12" ry="6.5" fill="url(#rg)" fill-opacity="0.3"/>
<ellipse cx="298.4" cy="326.3" rx="6.2" ry="10" fill="url(#rg2)" fill-opacity="0.45"/>
<ellipse cx="297.9" cy="326.3" rx="3.6" ry="6.8" fill="url(#rg)" fill-opacity="0.5"/>
<ellipse cx="297.9" cy="326.3" rx="2" ry="4.2" fill="url(#rg2)" fill-opacity="0.9"/>
</g>
<rect x="278.40" y="275.50" width="80.40" height="65.70" fill="none" stroke="#555" stroke-width="0.7"/>
<path d="M286.4,341.2v3 M302.4,341.2v3 M318.4,341.2v3 M334.4,341.2v3 M350.4,341.2v3 M278.4,340.7h-3 M278.4,328.5h-3 M278.4,316.3h-3 M278.4,304.1h-3 M278.4,291.9h-3 M278.4,279.7h-3" stroke="#000" stroke-width="1" fill="none"/>
<path d="M280.0,341.2v1.7 M281.6,341.2v1.7 M282.9,341.2v1.7 M283.9,341.2v1.7 M284.8,341.2v1.7 M285.7,341.2v1.7 M291.2,341.2v1.7 M294.0,341.2v1.7 M296.0,341.2v1.7 M297.6,341.2v1.7 M298.9,341.2v1.7 M299.9,341.2v1.7 M300.8,341.2v1.7 M301.7,341.2v1.7 M307.2,341.2v1.7 M310.0,341.2v1.7 M312.0,341.2v1.7 M313.6,341.2v1.7 M314.9,341.2v1.7 M315.9,341.2v1.7 M316.8,341.2v1.7 M317.7,341.2v1.7 M323.2,341.2v1.7 M326.0,341.2v1.7 M328.0,341.2v1.7 M329.6,341.2v1.7 M330.9,341.2v1.7 M331.9,341.2v1.7 M332.8,341.2v1.7 M333.7,341.2v1.7 M339.2,341.2v1.7 M342.0,341.2v1.7 M344.0,341.2v1.7 M345.6,341.2v1.7 M346.9,341.2v1.7 M347.9,341.2v1.7 M348.8,341.2v1.7 M349.7,341.2v1.7 M355.2,341.2v1.7 M278.4,337.0h-1.7 M278.4,334.9h-1.7 M278.4,333.4h-1.7 M278.4,332.2h-1.7 M278.4,331.2h-1.7 M278.4,330.4h-1.7 M278.4,329.7h-1.7 M278.4,329.1h-1.7 M278.4,324.8h-1.7 M278.4,322.7h-1.7 M278.4,321.2h-1.7 M278.4,320.0h-1.7 M278.4,319.0h-1.7 M278.4,318.2h-1.7 M278.4,317.5h-1.7 M278.4,316.9h-1.7 M278.4,312.6h-1.7 M278.4,310.5h-1.7 M278.4,309.0h-1.7 M278.4,307.8h-1.7 M278.4,306.8h-1.7 M278.4,306.0h-1.7 M278.4,305.3h-1.7 M278.4,304.7h-1.7 M278.4,300.4h-1.7 M278.4,298.3h-1.7 M278.4,296.8h-1.7 M278.4,295.6h-1.7 M278.4,294.6h-1.7 M278.4,293.8h-1.7 M278.4,293.1h-1.7 M278.4,292.5h-1.7 M278.4,288.2h-1.7 M278.4,286.1h-1.7 M278.4,284.6h-1.7 M278.4,283.4h-1.7 M278.4,282.4h-1.7 M278.4,281.6h-1.7 M278.4,280.9h-1.7 M278.4,280.3h-1.7 M278.4,276.0h-1.7" stroke="#000" stroke-width="0.7" fill="none"/>
<path d="M278.4,341.20h78.4M278.40,277.5v63.7" stroke="#333" stroke-width="0.6" fill="none"/>
<rect x="275.2" y="325.0" width="3.2" height="2.4" fill="#000"/>
<rect x="294.1" y="341.2" width="3.5" height="2.6" fill="#000"/>
<path d="M278.4,315.2h80.4M308.6,275.5v65.7" stroke="#222" stroke-width="0.6" fill="none"/>
<text transform="translate(327.80,294.00) rotate(0.03)" font-size="8.3" text-anchor="start" font-weight="normal" fill="#1a1a1a" letter-spacing="0.25" stroke="#1a1a1a" stroke-width="0.28">2.01%</text>
<path d="M319.9,303.5H372.5" stroke="#a0143c" stroke-width="1.7" fill="none"/>
<path d="M377.5,303.5l-8.6,-3.9l2.2,3.9l-2.2,3.9z" fill="#a0143c"/>
<g filter="url(#dens3)"><rect x="386.30" y="-2.50" width="140.8" height="125.7" fill="#000"/>
<ellipse cx="434.4" cy="75.0" rx="16" ry="21" fill="url(#rg3)" fill-opacity="0.31" transform="rotate(8 434.4 75.0)"/>
<ellipse cx="431.9" cy="75.0" rx="6" ry="13" fill="url(#rg)" fill-opacity="0.3"/>
<ellipse cx="430.9" cy="75.0" rx="3.2" ry="8" fill="url(#rg2)" fill-opacity="0.5"/>
<ellipse cx="430.9" cy="75.0" rx="1.7" ry="4.2" fill="url(#rg2)" fill-opacity="0.5"/>
<ellipse cx="437.8" cy="51.5" rx="11" ry="15" fill="url(#rg3)" fill-opacity="0.34" transform="rotate(12 437.8 51.5)"/>
<ellipse cx="436.3" cy="52.5" rx="4.5" ry="7" fill="url(#rg)" fill-opacity="0.22" transform="rotate(12 436.3 52.5)"/>
</g>
<rect x="416.30" y="27.50" width="80.50" height="65.70" fill="none" stroke="#555" stroke-width="0.7"/>
<path d="M423.8,93.2v3 M437.0,93.2v3 M450.2,93.2v3 M463.4,93.2v3 M476.6,93.2v3 M489.8,93.2v3 M416.3,92.7h-3 M416.3,80.5h-3 M416.3,68.3h-3 M416.3,56.1h-3 M416.3,43.9h-3 M416.3,31.7h-3" stroke="#000" stroke-width="1" fill="none"/>
<path d="M418.5,93.2v1.7 M421.2,93.2v1.7 M426.4,93.2v1.7 M429.1,93.2v1.7 M431.7,93.2v1.7 M434.4,93.2v1.7 M439.6,93.2v1.7 M442.3,93.2v1.7 M444.9,93.2v1.7 M447.6,93.2v1.7 M452.8,93.2v1.7 M455.5,93.2v1.7 M458.1,93.2v1.7 M460.8,93.2v1.7 M466.0,93.2v1.7 M468.7,93.2v1.7 M471.3,93.2v1.7 M474.0,93.2v1.7 M479.2,93.2v1.7 M481.9,93.2v1.7 M484.5,93.2v1.7 M487.2,93.2v1.7 M492.4,93.2v1.7 M495.1,93.2v1.7 M416.3,89.0h-1.7 M416.3,86.9h-1.7 M416.3,85.4h-1.7 M416.3,84.2h-1.7 M416.3,83.2h-1.7 M416.3,82.4h-1.7 M416.3,81.7h-1.7 M416.3,81.1h-1.7 M416.3,76.8h-1.7 M416.3,74.7h-1.7 M416.3,73.2h-1.7 M416.3,72.0h-1.7 M416.3,71.0h-1.7 M416.3,70.2h-1.7 M416.3,69.5h-1.7 M416.3,68.9h-1.7 M416.3,64.6h-1.7 M416.3,62.5h-1.7 M416.3,61.0h-1.7 M416.3,59.8h-1.7 M416.3,58.8h-1.7 M416.3,58.0h-1.7 M416.3,57.3h-1.7 M416.3,56.7h-1.7 M416.3,52.4h-1.7 M416.3,50.3h-1.7 M416.3,48.8h-1.7 M416.3,47.6h-1.7 M416.3,46.6h-1.7 M416.3,45.8h-1.7 M416.3,45.1h-1.7 M416.3,44.5h-1.7 M416.3,40.2h-1.7 M416.3,38.1h-1.7 M416.3,36.6h-1.7 M416.3,35.4h-1.7 M416.3,34.4h-1.7 M416.3,33.6h-1.7 M416.3,32.9h-1.7 M416.3,32.3h-1.7 M416.3,28.0h-1.7" stroke="#000" stroke-width="0.7" fill="none"/>
<path d="M416.3,93.20h78.5M416.30,29.5v63.7" stroke="#333" stroke-width="0.6" fill="none"/>
<rect x="413.1" y="76.9" width="3.2" height="2.6" fill="#000"/>
<rect x="420.3" y="32.0" width="43.6" height="28.8" fill="none" stroke="#000" stroke-width="1.25"/>
<text transform="translate(468.60,50.20) rotate(0.03)" font-size="8.3" text-anchor="start" font-weight="normal" fill="#1a1a1a" letter-spacing="0.25" stroke="#1a1a1a" stroke-width="0.28">9.99%</text>
<g filter="url(#dens3)"><rect x="386.30" y="79.70" width="140.8" height="125.7" fill="#000"/>
<ellipse cx="437.3" cy="154.2" rx="16" ry="21" fill="url(#rg3)" fill-opacity="0.31" transform="rotate(8 437.3 154.2)"/>
<ellipse cx="434.8" cy="154.2" rx="6" ry="13" fill="url(#rg)" fill-opacity="0.3"/>
<ellipse cx="433.8" cy="155.2" rx="3.2" ry="9.5" fill="url(#rg2)" fill-opacity="0.5"/>
<ellipse cx="433.8" cy="154.2" rx="1.7" ry="4.2" fill="url(#rg2)" fill-opacity="0.5"/>
<ellipse cx="446.3" cy="129.7" rx="24" ry="13" fill="url(#rg3)" fill-opacity="0.36" transform="rotate(-42 446.3 129.7)"/>
<ellipse cx="445.3" cy="128.7" rx="14" ry="7.5" fill="url(#rg3)" fill-opacity="0.38" transform="rotate(-42 445.3 128.7)"/>
<ellipse cx="444.8" cy="128.2" rx="7" ry="3.5" fill="url(#rg2)" fill-opacity="0.3" transform="rotate(-42 444.8 128.2)"/>
</g>
<rect x="416.30" y="109.70" width="80.50" height="65.70" fill="none" stroke="#555" stroke-width="0.7"/>
<path d="M423.8,175.4v3 M437.0,175.4v3 M450.2,175.4v3 M463.4,175.4v3 M476.6,175.4v3 M489.8,175.4v3 M416.3,174.9h-3 M416.3,162.7h-3 M416.3,150.5h-3 M416.3,138.3h-3 M416.3,126.1h-3 M416.3,113.9h-3" stroke="#000" stroke-width="1" fill="none"/>
<path d="M418.5,175.4v1.7 M421.2,175.4v1.7 M426.4,175.4v1.7 M429.1,175.4v1.7 M431.7,175.4v1.7 M434.4,175.4v1.7 M439.6,175.4v1.7 M442.3,175.4v1.7 M444.9,175.4v1.7 M447.6,175.4v1.7 M452.8,175.4v1.7 M455.5,175.4v1.7 M458.1,175.4v1.7 M460.8,175.4v1.7 M466.0,175.4v1.7 M468.7,175.4v1.7 M471.3,175.4v1.7 M474.0,175.4v1.7 M479.2,175.4v1.7 M481.9,175.4v1.7 M484.5,175.4v1.7 M487.2,175.4v1.7 M492.4,175.4v1.7 M495.1,175.4v1.7 M416.3,171.2h-1.7 M416.3,169.1h-1.7 M416.3,167.6h-1.7 M416.3,166.4h-1.7 M416.3,165.4h-1.7 M416.3,164.6h-1.7 M416.3,163.9h-1.7 M416.3,163.3h-1.7 M416.3,159.0h-1.7 M416.3,156.9h-1.7 M416.3,155.4h-1.7 M416.3,154.2h-1.7 M416.3,153.2h-1.7 M416.3,152.4h-1.7 M416.3,151.7h-1.7 M416.3,151.1h-1.7 M416.3,146.8h-1.7 M416.3,144.7h-1.7 M416.3,143.2h-1.7 M416.3,142.0h-1.7 M416.3,141.0h-1.7 M416.3,140.2h-1.7 M416.3,139.5h-1.7 M416.3,138.9h-1.7 M416.3,134.6h-1.7 M416.3,132.5h-1.7 M416.3,131.0h-1.7 M416.3,129.8h-1.7 M416.3,128.8h-1.7 M416.3,128.0h-1.7 M416.3,127.3h-1.7 M416.3,126.7h-1.7 M416.3,122.4h-1.7 M416.3,120.3h-1.7 M416.3,118.8h-1.7 M416.3,117.6h-1.7 M416.3,116.6h-1.7 M416.3,115.8h-1.7 M416.3,115.1h-1.7 M416.3,114.5h-1.7 M416.3,110.2h-1.7" stroke="#000" stroke-width="0.7" fill="none"/>
<path d="M416.3,175.40h78.5M416.30,111.7v63.7" stroke="#333" stroke-width="0.6" fill="none"/>
<rect x="413.1" y="159.1" width="3.2" height="2.6" fill="#000"/>
<rect x="420.3" y="115.7" width="43.6" height="27" fill="none" stroke="#000" stroke-width="1.25"/>
<text transform="translate(468.60,134.00) rotate(0.03)" font-size="8.3" text-anchor="start" font-weight="normal" fill="#1a1a1a" letter-spacing="0.25" stroke="#1a1a1a" stroke-width="0.28">42.1%</text>
<g filter="url(#dens3)"><rect x="386.30" y="162.20" width="140.8" height="125.7" fill="#000"/>
<ellipse cx="434.4" cy="239.7" rx="16" ry="21" fill="url(#rg3)" fill-opacity="0.31" transform="rotate(8 434.4 239.7)"/>
<ellipse cx="431.9" cy="239.7" rx="6" ry="13" fill="url(#rg)" fill-opacity="0.3"/>
<ellipse cx="430.9" cy="239.7" rx="3.2" ry="8" fill="url(#rg2)" fill-opacity="0.5"/>
<ellipse cx="430.9" cy="239.7" rx="1.7" ry="4.2" fill="url(#rg2)" fill-opacity="0.5"/>
<ellipse cx="437.8" cy="216.2" rx="11" ry="15" fill="url(#rg3)" fill-opacity="0.34" transform="rotate(12 437.8 216.2)"/>
<ellipse cx="436.3" cy="217.2" rx="4.5" ry="7" fill="url(#rg)" fill-opacity="0.22" transform="rotate(12 436.3 217.2)"/>
</g>
<rect x="416.30" y="192.20" width="80.50" height="65.70" fill="none" stroke="#555" stroke-width="0.7"/>
<path d="M423.8,257.9v3 M437.0,257.9v3 M450.2,257.9v3 M463.4,257.9v3 M476.6,257.9v3 M489.8,257.9v3 M416.3,257.4h-3 M416.3,245.2h-3 M416.3,233.0h-3 M416.3,220.8h-3 M416.3,208.6h-3 M416.3,196.4h-3" stroke="#000" stroke-width="1" fill="none"/>
<path d="M418.5,257.9v1.7 M421.2,257.9v1.7 M426.4,257.9v1.7 M429.1,257.9v1.7 M431.7,257.9v1.7 M434.4,257.9v1.7 M439.6,257.9v1.7 M442.3,257.9v1.7 M444.9,257.9v1.7 M447.6,257.9v1.7 M452.8,257.9v1.7 M455.5,257.9v1.7 M458.1,257.9v1.7 M460.8,257.9v1.7 M466.0,257.9v1.7 M468.7,257.9v1.7 M471.3,257.9v1.7 M474.0,257.9v1.7 M479.2,257.9v1.7 M481.9,257.9v1.7 M484.5,257.9v1.7 M487.2,257.9v1.7 M492.4,257.9v1.7 M495.1,257.9v1.7 M416.3,253.7h-1.7 M416.3,251.6h-1.7 M416.3,250.1h-1.7 M416.3,248.9h-1.7 M416.3,247.9h-1.7 M416.3,247.1h-1.7 M416.3,246.4h-1.7 M416.3,245.8h-1.7 M416.3,241.5h-1.7 M416.3,239.4h-1.7 M416.3,237.9h-1.7 M416.3,236.7h-1.7 M416.3,235.7h-1.7 M416.3,234.9h-1.7 M416.3,234.2h-1.7 M416.3,233.6h-1.7 M416.3,229.3h-1.7 M416.3,227.2h-1.7 M416.3,225.7h-1.7 M416.3,224.5h-1.7 M416.3,223.5h-1.7 M416.3,222.7h-1.7 M416.3,222.0h-1.7 M416.3,221.4h-1.7 M416.3,217.1h-1.7 M416.3,215.0h-1.7 M416.3,213.5h-1.7 M416.3,212.3h-1.7 M416.3,211.3h-1.7 M416.3,210.5h-1.7 M416.3,209.8h-1.7 M416.3,209.2h-1.7 M416.3,204.9h-1.7 M416.3,202.8h-1.7 M416.3,201.3h-1.7 M416.3,200.1h-1.7 M416.3,199.1h-1.7 M416.3,198.3h-1.7 M416.3,197.6h-1.7 M416.3,197.0h-1.7 M416.3,192.7h-1.7" stroke="#000" stroke-width="0.7" fill="none"/>
<path d="M416.3,257.90h78.5M416.30,194.2v63.7" stroke="#333" stroke-width="0.6" fill="none"/>
<rect x="413.1" y="241.6" width="3.2" height="2.6" fill="#000"/>
<rect x="420.3" y="198.2" width="43.6" height="27.5" fill="none" stroke="#000" stroke-width="1.25"/>
<text transform="translate(468.60,215.20) rotate(0.03)" font-size="8.3" text-anchor="start" font-weight="normal" fill="#1a1a1a" letter-spacing="0.25" stroke="#1a1a1a" stroke-width="0.28">9.97%</text>
<g filter="url(#dens3)"><rect x="386.30" y="245.50" width="140.8" height="125.7" fill="#000"/>
<ellipse cx="434.4" cy="323.0" rx="16" ry="21" fill="url(#rg3)" fill-opacity="0.31" transform="rotate(8 434.4 323.0)"/>
<ellipse cx="431.9" cy="323.0" rx="6" ry="13" fill="url(#rg)" fill-opacity="0.3"/>
<ellipse cx="430.9" cy="323.0" rx="3.2" ry="8" fill="url(#rg2)" fill-opacity="0.5"/>
<ellipse cx="430.9" cy="323.0" rx="1.7" ry="4.2" fill="url(#rg2)" fill-opacity="0.5"/>
<ellipse cx="437.8" cy="299.5" rx="11" ry="15" fill="url(#rg3)" fill-opacity="0.34" transform="rotate(12 437.8 299.5)"/>
<ellipse cx="436.3" cy="300.5" rx="4.5" ry="7" fill="url(#rg)" fill-opacity="0.22" transform="rotate(12 436.3 300.5)"/>
</g>
<rect x="416.30" y="275.50" width="80.50" height="65.70" fill="none" stroke="#555" stroke-width="0.7"/>
<path d="M423.8,341.2v3 M437.0,341.2v3 M450.2,341.2v3 M463.4,341.2v3 M476.6,341.2v3 M489.8,341.2v3 M416.3,340.7h-3 M416.3,328.5h-3 M416.3,316.3h-3 M416.3,304.1h-3 M416.3,291.9h-3 M416.3,279.7h-3" stroke="#000" stroke-width="1" fill="none"/>
<path d="M418.5,341.2v1.7 M421.2,341.2v1.7 M426.4,341.2v1.7 M429.1,341.2v1.7 M431.7,341.2v1.7 M434.4,341.2v1.7 M439.6,341.2v1.7 M442.3,341.2v1.7 M444.9,341.2v1.7 M447.6,341.2v1.7 M452.8,341.2v1.7 M455.5,341.2v1.7 M458.1,341.2v1.7 M460.8,341.2v1.7 M466.0,341.2v1.7 M468.7,341.2v1.7 M471.3,341.2v1.7 M474.0,341.2v1.7 M479.2,341.2v1.7 M481.9,341.2v1.7 M484.5,341.2v1.7 M487.2,341.2v1.7 M492.4,341.2v1.7 M495.1,341.2v1.7 M416.3,337.0h-1.7 M416.3,334.9h-1.7 M416.3,333.4h-1.7 M416.3,332.2h-1.7 M416.3,331.2h-1.7 M416.3,330.4h-1.7 M416.3,329.7h-1.7 M416.3,329.1h-1.7 M416.3,324.8h-1.7 M416.3,322.7h-1.7 M416.3,321.2h-1.7 M416.3,320.0h-1.7 M416.3,319.0h-1.7 M416.3,318.2h-1.7 M416.3,317.5h-1.7 M416.3,316.9h-1.7 M416.3,312.6h-1.7 M416.3,310.5h-1.7 M416.3,309.0h-1.7 M416.3,307.8h-1.7 M416.3,306.8h-1.7 M416.3,306.0h-1.7 M416.3,305.3h-1.7 M416.3,304.7h-1.7 M416.3,300.4h-1.7 M416.3,298.3h-1.7 M416.3,296.8h-1.7 M416.3,295.6h-1.7 M416.3,294.6h-1.7 M416.3,293.8h-1.7 M416.3,293.1h-1.7 M416.3,292.5h-1.7 M416.3,288.2h-1.7 M416.3,286.1h-1.7 M416.3,284.6h-1.7 M416.3,283.4h-1.7 M416.3,282.4h-1.7 M416.3,281.6h-1.7 M416.3,280.9h-1.7 M416.3,280.3h-1.7 M416.3,276.0h-1.7" stroke="#000" stroke-width="0.7" fill="none"/>
<path d="M416.3,341.20h78.5M416.30,277.5v63.7" stroke="#333" stroke-width="0.6" fill="none"/>
<rect x="413.1" y="324.9" width="3.2" height="2.6" fill="#000"/>
<rect x="420.3" y="281.5" width="43.6" height="27.5" fill="none" stroke="#000" stroke-width="1.25"/>
<text transform="translate(468.60,297.00) rotate(0.03)" font-size="8.3" text-anchor="start" font-weight="normal" fill="#1a1a1a" letter-spacing="0.25" stroke="#1a1a1a" stroke-width="0.28">10.8%</text>
<path d="M129.5,348V43.3" stroke="#000" stroke-width="1.5" fill="none"/>
<path d="M129.5,37.3l-4.8,11.2l4.8,-2.7l4.8,2.7z" fill="#000"/>
<path d="M128.75,348H211.3" stroke="#000" stroke-width="1.5" fill="none"/>
<path d="M217.3,348l-11.2,-4.8l2.7,4.8l-2.7,4.8z" fill="#000"/>
<path d="M269,348V43.3" stroke="#000" stroke-width="1.5" fill="none"/>
<path d="M269,37.3l-4.8,11.2l4.8,-2.7l4.8,2.7z" fill="#000"/>
<path d="M268.25,348H351.2" stroke="#000" stroke-width="1.5" fill="none"/>
<path d="M357.2,348l-11.2,-4.8l2.7,4.8l-2.7,4.8z" fill="#000"/>
<path d="M406.4,348V43.3" stroke="#000" stroke-width="1.5" fill="none"/>
<path d="M406.4,37.3l-4.8,11.2l4.8,-2.7l4.8,2.7z" fill="#000"/>
<path d="M405.65,348H489" stroke="#000" stroke-width="1.5" fill="none"/>
<path d="M495,348l-11.2,-4.8l2.7,4.8l-2.7,4.8z" fill="#000"/>
<text transform="translate(124.30,192.60) rotate(-89.97) scale(0.66,1)" font-size="10" text-anchor="middle" font-weight="normal" fill="#1a1a1a" stroke="#1a1a1a" stroke-width="0.45">FSC-A</text>
<text transform="translate(262.70,193.30) rotate(-89.97) scale(0.66,1)" font-size="10" text-anchor="middle" font-weight="normal" fill="#1a1a1a" stroke="#1a1a1a" stroke-width="0.45">SCA-1</text>
<text transform="translate(400.50,192.50) rotate(-89.97) scale(0.66,1)" font-size="10" text-anchor="middle" font-weight="normal" fill="#1a1a1a" stroke="#1a1a1a" stroke-width="0.45">BrdU</text>
<text transform="translate(176.00,365.60) rotate(0.03) scale(0.68,1)" font-size="10" text-anchor="middle" font-weight="normal" fill="#1a1a1a" stroke="#1a1a1a" stroke-width="0.45">LIN</text>
<text transform="translate(309.20,365.60) rotate(0.03) scale(0.68,1)" font-size="10" text-anchor="middle" font-weight="normal" fill="#1a1a1a" stroke="#1a1a1a" stroke-width="0.45">KIT</text>
<text transform="translate(451.50,365.60) rotate(0.03) scale(0.66,1)" font-size="10" text-anchor="middle" font-weight="normal" fill="#1a1a1a" stroke="#1a1a1a" stroke-width="0.45">7-AAD</text>
<text transform="translate(12.20,16.70) rotate(0.03)" font-size="12.3" text-anchor="start" font-weight="bold" fill="#000" stroke="#000" stroke-width="0.5">A</text>
<text transform="translate(284.3,17.9) rotate(0.03)" font-size="10" letter-spacing="0.08" fill="#1a1a1a" stroke="#1a1a1a" stroke-width="0.25">LSKs: % of LIN<tspan dy="-5" font-size="6.5">-</tspan><tspan dy="5"> cells</tspan></text>
<text transform="translate(66.60,62.20) rotate(0.03)" font-size="10.3" text-anchor="start" font-weight="normal" fill="#1a1a1a"  stroke="#1a1a1a" stroke-width="0.3">PBS</text>
<text transform="translate(66.50,154.20) rotate(0.03)" font-size="9.8" text-anchor="start" font-weight="normal" fill="#1a1a1a"  stroke="#1a1a1a" stroke-width="0.3">Flagellin</text>
<text transform="translate(17.00,108.50) rotate(0.03)" font-size="10.1" text-anchor="start" font-weight="normal" fill="#1a1a1a"  stroke="#1a1a1a" stroke-width="0.3">WT</text>
<text transform="translate(66.60,223.70) rotate(0.03)" font-size="10.3" text-anchor="start" font-weight="normal" fill="#1a1a1a"  stroke="#1a1a1a" stroke-width="0.3">PBS</text>
<text transform="translate(66.50,316.40) rotate(0.03)" font-size="9.8" text-anchor="start" font-weight="normal" fill="#1a1a1a"  stroke="#1a1a1a" stroke-width="0.3">Flagellin</text>
<text transform="translate(8.00,263.10) rotate(0.03)" font-size="10.1" text-anchor="start" font-weight="normal" fill="#1a1a1a"  stroke="#1a1a1a" stroke-width="0.3">N4T5-</text>
<text transform="translate(8.00,275.70) rotate(0.03)" font-size="10.1" text-anchor="start" font-weight="normal" fill="#1a1a1a"  stroke="#1a1a1a" stroke-width="0.3">DKO</text>
<path d="M63.5,57.5H61Q59,57.5 59,59.5V102.4Q59,104.2 57.2,104.2H52.2H57.2Q59,104.2 59,106.0V149Q59,151 61,151H63.5" stroke="#000" stroke-width="1.45" fill="none" stroke-linejoin="round"/>
<path d="M63.5,219.4H61Q59,219.4 59,221.4V264.8Q59,266.6 57.2,266.6H52.2H57.2Q59,266.6 59,268.40000000000003V311Q59,313 61,313H63.5" stroke="#000" stroke-width="1.45" fill="none" stroke-linejoin="round"/>
<text transform="translate(12.50,392.00) rotate(0.03)" font-size="12.3" text-anchor="start" font-weight="bold" fill="#000" stroke="#000" stroke-width="0.5">B</text>
<path d="M72.05,480V477M68.25,477h7.6" stroke="#000" stroke-width="1.2" fill="none"/>
<rect x="64.3" y="480" width="15.50" height="26.40" fill="#b8042e"/>
<text transform="translate(71.40,515.50) rotate(-44.97)" font-size="7.7" text-anchor="end" font-weight="normal" fill="#1a1a1a" stroke="#1a1a1a" stroke-width="0.3">PBS</text>
<path d="M93.85,449.2V428M90.05,428h7.6" stroke="#000" stroke-width="1.2" fill="none"/>
<rect x="86.1" y="449.2" width="15.50" height="57.20" fill="#2b4c85"/>
<text transform="translate(92.65,515.50) rotate(-44.97)" font-size="7.7" text-anchor="end" font-weight="normal" fill="#1a1a1a" stroke="#1a1a1a" stroke-width="0.3">Flagellin</text>
<path d="M129.45,480.8V471M125.65,471h7.6" stroke="#000" stroke-width="1.2" fill="none"/>
<rect x="121.7" y="480.8" width="15.50" height="25.60" fill="#b8042e"/>
<text transform="translate(129.40,515.50) rotate(-44.97)" font-size="7.7" text-anchor="end" font-weight="normal" fill="#1a1a1a" stroke="#1a1a1a" stroke-width="0.3">PBS</text>
<path d="M151.15,479V472.7M147.35,472.7h7.6" stroke="#000" stroke-width="1.2" fill="none"/>
<rect x="143.4" y="479" width="15.50" height="27.40" fill="#2b4c85"/>
<text transform="translate(150.65,515.50) rotate(-44.97)" font-size="7.7" text-anchor="end" font-weight="normal" fill="#1a1a1a" stroke="#1a1a1a" stroke-width="0.3">Flagellin</text>
<path d="M54,396.9V506.4H169.5" stroke="#000" stroke-width="1.3" fill="none"/>
<path d="M54,506.4h-3.6" stroke="#000" stroke-width="1.2"/>
<text transform="translate(47.70,509.30) rotate(0.03)" font-size="8.2" text-anchor="end" font-weight="normal" fill="#1a1a1a" stroke="#1a1a1a" stroke-width="0.12">0.0</text>
<path d="M54,479.5h-3.6" stroke="#000" stroke-width="1.2"/>
<text transform="translate(47.70,482.40) rotate(0.03)" font-size="8.2" text-anchor="end" font-weight="normal" fill="#1a1a1a" stroke="#1a1a1a" stroke-width="0.12">0.2</text>
<path d="M54,452.5h-3.6" stroke="#000" stroke-width="1.2"/>
<text transform="translate(47.70,455.40) rotate(0.03)" font-size="8.2" text-anchor="end" font-weight="normal" fill="#1a1a1a" stroke="#1a1a1a" stroke-width="0.12">0.4</text>
<path d="M54,425.5h-3.6" stroke="#000" stroke-width="1.2"/>
<text transform="translate(47.70,428.40) rotate(0.03)" font-size="8.2" text-anchor="end" font-weight="normal" fill="#1a1a1a" stroke="#1a1a1a" stroke-width="0.12">0.6</text>
<path d="M54,398.5h-3.6" stroke="#000" stroke-width="1.2"/>
<text transform="translate(47.70,401.40) rotate(0.03)" font-size="8.2" text-anchor="end" font-weight="normal" fill="#1a1a1a" stroke="#1a1a1a" stroke-width="0.12">0.8</text>
<text transform="translate(30.80,451.00) rotate(-89.97) scale(0.71,1)" font-size="10" text-anchor="middle" font-weight="normal" fill="#1a1a1a" stroke="#1a1a1a" stroke-width="0.3">LSK cell% in BM</text>
<path d="M67.2,414.5V409H94V414.5" stroke="#000" stroke-width="1.1" fill="none"/>
<text transform="translate(80.60,407.60) rotate(0.03)" font-size="8.8" text-anchor="middle" font-weight="bold" fill="#000" >**</text>
<path d="M128.5,467.0V461.5H153.7V467.0" stroke="#000" stroke-width="1.1" fill="none"/>
<text transform="translate(141.10,455.20) rotate(0.03)" font-size="9.5" text-anchor="middle" font-weight="normal" fill="#1a1a1a" stroke="#1a1a1a" stroke-width="0.3">ns</text>
<path d="M59.5,533.0v2.5q0,2 2,2H72.25q1.5,0 1.5,1.5v2.5v-2.5q0,-1.5 1.5,-1.5H85.5q2,0 2,-2v-2.5" stroke="#000" stroke-width="1.1" fill="none"/>
<text transform="translate(73.75,552.00) rotate(0.03)" font-size="8.4" text-anchor="middle" font-weight="normal" fill="#1a1a1a" stroke="#1a1a1a" stroke-width="0.12">WT</text>
<path d="M114.25,533.0v2.5q0,2 2,2H126.5q1.5,0 1.5,1.5v2.5v-2.5q0,-1.5 1.5,-1.5H140.5q2,0 2,-2v-2.5" stroke="#000" stroke-width="1.1" fill="none"/>
<text transform="translate(128.00,552.00) rotate(0.03)" font-size="8.4" text-anchor="middle" font-weight="normal" fill="#1a1a1a" stroke="#1a1a1a" stroke-width="0.12">N4T5-DKO</text>
<text transform="translate(188.50,392.00) rotate(0.03)" font-size="12.3" text-anchor="start" font-weight="bold" fill="#000" stroke="#000" stroke-width="0.5">C</text>
<path d="M263.20,484V481M259.40,481h7.6" stroke="#000" stroke-width="1.2" fill="none"/>
<rect x="256.4" y="484" width="13.60" height="22.40" fill="#b8042e"/>
<text transform="translate(264.00,515.50) rotate(-44.97)" font-size="7.7" text-anchor="end" font-weight="normal" fill="#1a1a1a" stroke="#1a1a1a" stroke-width="0.3">PBS</text>
<path d="M282.40,445V434.6M278.60,434.6h7.6" stroke="#000" stroke-width="1.2" fill="none"/>
<rect x="275.6" y="445" width="13.60" height="61.40" fill="#2b4c85"/>
<text transform="translate(283.80,515.50) rotate(-44.97)" font-size="7.7" text-anchor="end" font-weight="normal" fill="#1a1a1a" stroke="#1a1a1a" stroke-width="0.3">Flagellin</text>
<path d="M313.80,483V476M310.00,476h7.6" stroke="#000" stroke-width="1.2" fill="none"/>
<rect x="307" y="483" width="13.60" height="23.40" fill="#b8042e"/>
<text transform="translate(314.40,515.50) rotate(-44.97)" font-size="7.7" text-anchor="end" font-weight="normal" fill="#1a1a1a" stroke="#1a1a1a" stroke-width="0.3">PBS</text>
<path d="M333.00,476.6V474.4M329.20,474.4h7.6" stroke="#000" stroke-width="1.2" fill="none"/>
<rect x="326.2" y="476.6" width="13.60" height="29.80" fill="#2b4c85"/>
<text transform="translate(333.40,515.50) rotate(-44.97)" font-size="7.7" text-anchor="end" font-weight="normal" fill="#1a1a1a" stroke="#1a1a1a" stroke-width="0.3">Flagellin</text>
<path d="M246.8,396.79999999999995V506.4H343" stroke="#000" stroke-width="1.3" fill="none"/>
<path d="M246.8,506.4h-3.6" stroke="#000" stroke-width="1.2"/>
<text transform="translate(240.50,509.30) rotate(0.03)" font-size="8.2" text-anchor="end" font-weight="normal" fill="#1a1a1a" stroke="#1a1a1a" stroke-width="0.12">0</text>
<path d="M246.8,470.6h-3.6" stroke="#000" stroke-width="1.2"/>
<text transform="translate(240.50,473.50) rotate(0.03)" font-size="8.2" text-anchor="end" font-weight="normal" fill="#1a1a1a" stroke="#1a1a1a" stroke-width="0.12">50000</text>
<path d="M246.8,434.6h-3.6" stroke="#000" stroke-width="1.2"/>
<text transform="translate(240.50,437.50) rotate(0.03)" font-size="8.2" text-anchor="end" font-weight="normal" fill="#1a1a1a" stroke="#1a1a1a" stroke-width="0.12">100000</text>
<path d="M246.8,398.4h-3.6" stroke="#000" stroke-width="1.2"/>
<text transform="translate(240.50,401.30) rotate(0.03)" font-size="8.2" text-anchor="end" font-weight="normal" fill="#1a1a1a" stroke="#1a1a1a" stroke-width="0.12">150000</text>
<text transform="translate(206.60,451.30) rotate(-89.97) scale(0.695,1)" font-size="10" text-anchor="middle" font-weight="normal" fill="#1a1a1a" stroke="#1a1a1a" stroke-width="0.3">BM LSK cell number</text>
<path d="M258.6,422.6V416.6H283V422.6" stroke="#000" stroke-width="1.1" fill="none"/>
<text transform="translate(270.80,415.20) rotate(0.03)" font-size="8.8" text-anchor="middle" font-weight="bold" fill="#000" >**</text>
<path d="M313.4,468.6V463.6H334.6V468.6" stroke="#000" stroke-width="1.1" fill="none"/>
<text transform="translate(324.00,457.30) rotate(0.03)" font-size="9.5" text-anchor="middle" font-weight="normal" fill="#1a1a1a" stroke="#1a1a1a" stroke-width="0.3">ns</text>
<path d="M257,533.5v2.5q0,2 2,2H269.1q1.5,0 1.5,1.5v2.5v-2.5q0,-1.5 1.5,-1.5H282.4q2,0 2,-2v-2.5" stroke="#000" stroke-width="1.1" fill="none"/>
<text transform="translate(270.60,552.00) rotate(0.03)" font-size="8.4" text-anchor="middle" font-weight="normal" fill="#1a1a1a" stroke="#1a1a1a" stroke-width="0.12">WT</text>
<path d="M306.6,533.5v2.5q0,2 2,2H318.5q1.5,0 1.5,1.5v2.5v-2.5q0,-1.5 1.5,-1.5H332.4q2,0 2,-2v-2.5" stroke="#000" stroke-width="1.1" fill="none"/>
<text transform="translate(320.00,552.00) rotate(0.03)" font-size="8.4" text-anchor="middle" font-weight="normal" fill="#1a1a1a" stroke="#1a1a1a" stroke-width="0.12">N4T5-DKO</text>
<text transform="translate(368.80,392.00) rotate(0.03)" font-size="12.3" text-anchor="start" font-weight="bold" fill="#000" stroke="#000" stroke-width="0.5">D</text>
<path d="M425.00,478.4V474.4M421.20,474.4h7.6" stroke="#000" stroke-width="1.2" fill="none"/>
<rect x="417.8" y="478.4" width="14.40" height="28.00" fill="#b8042e"/>
<text transform="translate(426.40,515.50) rotate(-44.97)" font-size="7.7" text-anchor="end" font-weight="normal" fill="#1a1a1a" stroke="#1a1a1a" stroke-width="0.3">PBS</text>
<path d="M444.25,423.5V415M440.45,415h7.6" stroke="#000" stroke-width="1.2" fill="none"/>
<rect x="437" y="423.5" width="14.50" height="82.90" fill="#2b4c85"/>
<text transform="translate(444.40,515.50) rotate(-44.97)" font-size="7.7" text-anchor="end" font-weight="normal" fill="#1a1a1a" stroke="#1a1a1a" stroke-width="0.3">Flagellin</text>
<path d="M476.30,474.4V461.4M472.50,461.4h7.6" stroke="#000" stroke-width="1.2" fill="none"/>
<rect x="469" y="474.4" width="14.60" height="32.00" fill="#b8042e"/>
<text transform="translate(477.40,515.50) rotate(-44.97)" font-size="7.7" text-anchor="end" font-weight="normal" fill="#1a1a1a" stroke="#1a1a1a" stroke-width="0.3">PBS</text>
<path d="M496.00,478V463.4M492.20,463.4h7.6" stroke="#000" stroke-width="1.2" fill="none"/>
<rect x="488.6" y="478" width="14.80" height="28.40" fill="#2b4c85"/>
<text transform="translate(496.40,515.50) rotate(-44.97)" font-size="7.7" text-anchor="end" font-weight="normal" fill="#1a1a1a" stroke="#1a1a1a" stroke-width="0.3">Flagellin</text>
<path d="M408.4,398.0V506.4H513" stroke="#000" stroke-width="1.3" fill="none"/>
<path d="M408.4,506.4h-3.6" stroke="#000" stroke-width="1.2"/>
<text transform="translate(402.10,509.30) rotate(0.03)" font-size="8.2" text-anchor="end" font-weight="normal" fill="#1a1a1a" stroke="#1a1a1a" stroke-width="0.12">0</text>
<path d="M408.4,485.2h-3.6" stroke="#000" stroke-width="1.2"/>
<text transform="translate(402.10,488.10) rotate(0.03)" font-size="8.2" text-anchor="end" font-weight="normal" fill="#1a1a1a" stroke="#1a1a1a" stroke-width="0.12">10</text>
<path d="M408.4,464h-3.6" stroke="#000" stroke-width="1.2"/>
<text transform="translate(402.10,466.90) rotate(0.03)" font-size="8.2" text-anchor="end" font-weight="normal" fill="#1a1a1a" stroke="#1a1a1a" stroke-width="0.12">20</text>
<path d="M408.4,442.6h-3.6" stroke="#000" stroke-width="1.2"/>
<text transform="translate(402.10,445.50) rotate(0.03)" font-size="8.2" text-anchor="end" font-weight="normal" fill="#1a1a1a" stroke="#1a1a1a" stroke-width="0.12">30</text>
<path d="M408.4,421.4h-3.6" stroke="#000" stroke-width="1.2"/>
<text transform="translate(402.10,424.30) rotate(0.03)" font-size="8.2" text-anchor="end" font-weight="normal" fill="#1a1a1a" stroke="#1a1a1a" stroke-width="0.12">40</text>
<path d="M408.4,399.6h-3.6" stroke="#000" stroke-width="1.2"/>
<text transform="translate(402.10,402.50) rotate(0.03)" font-size="8.2" text-anchor="end" font-weight="normal" fill="#1a1a1a" stroke="#1a1a1a" stroke-width="0.12">50</text>
<text transform="translate(386.60,451.30) rotate(-89.97) scale(0.71,1)" font-size="10" text-anchor="middle" font-weight="normal" fill="#1a1a1a" stroke="#1a1a1a" stroke-width="0.3">BrdU incorporation% in LSK cells</text>
<path d="M423.4,407.5V400.5H445.4V407.5" stroke="#000" stroke-width="1.1" fill="none"/>
<text transform="translate(434.40,399.10) rotate(0.03)" font-size="8.8" text-anchor="middle" font-weight="bold" fill="#000" >***</text>
<path d="M474.4,456.1V450.6H497V456.1" stroke="#000" stroke-width="1.1" fill="none"/>
<text transform="translate(485.70,444.30) rotate(0.03)" font-size="9.5" text-anchor="middle" font-weight="normal" fill="#1a1a1a" stroke="#1a1a1a" stroke-width="0.3">ns</text>
<path d="M418.4,533.0v2.5q0,2 2,2H430.5q1.5,0 1.5,1.5v2.5v-2.5q0,-1.5 1.5,-1.5H444q2,0 2,-2v-2.5" stroke="#000" stroke-width="1.1" fill="none"/>
<text transform="translate(432.00,552.00) rotate(0.03)" font-size="8.4" text-anchor="middle" font-weight="normal" fill="#1a1a1a" stroke="#1a1a1a" stroke-width="0.12">WT</text>
<path d="M469,533.0v2.5q0,2 2,2H481.1q1.5,0 1.5,1.5v2.5v-2.5q0,-1.5 1.5,-1.5H494.6q2,0 2,-2v-2.5" stroke="#000" stroke-width="1.1" fill="none"/>
<text transform="translate(482.60,552.00) rotate(0.03)" font-size="8.4" text-anchor="middle" font-weight="normal" fill="#1a1a1a" stroke="#1a1a1a" stroke-width="0.12">N4T5-DKO</text>
<text transform="translate(12.50,578.80) rotate(0.03)" font-size="12.3" text-anchor="start" font-weight="bold" fill="#000" stroke="#000" stroke-width="0.5">E</text>
<path d="M66.70,681.6V677M62.90,677h7.6" stroke="#000" stroke-width="1.2" fill="none"/>
<rect x="61" y="681.6" width="11.40" height="17.40" fill="#b8042e"/>
<text transform="translate(68.40,708.00) rotate(-44.97)" font-size="7.7" text-anchor="end" font-weight="normal" fill="#1a1a1a" stroke="#1a1a1a" stroke-width="0.3">PBS</text>
<path d="M81.70,627V596.4M77.90,596.4h7.6" stroke="#000" stroke-width="1.2" fill="none"/>
<rect x="76" y="627" width="11.40" height="72.00" fill="#2b4c85"/>
<text transform="translate(82.40,708.00) rotate(-44.97)" font-size="7.7" text-anchor="end" font-weight="normal" fill="#1a1a1a" stroke="#1a1a1a" stroke-width="0.3">Flagellin</text>
<path d="M106.60,675.6V669M102.80,669h7.6" stroke="#000" stroke-width="1.2" fill="none"/>
<rect x="101" y="675.6" width="11.20" height="23.40" fill="#b8042e"/>
<text transform="translate(107.00,708.00) rotate(-44.97)" font-size="7.7" text-anchor="end" font-weight="normal" fill="#1a1a1a" stroke="#1a1a1a" stroke-width="0.3">PBS</text>
<path d="M121.60,669V666.6M117.80,666.6h7.6" stroke="#000" stroke-width="1.2" fill="none"/>
<rect x="116" y="669" width="11.20" height="30.00" fill="#2b4c85"/>
<text transform="translate(121.40,708.00) rotate(-44.97)" font-size="7.7" text-anchor="end" font-weight="normal" fill="#1a1a1a" stroke="#1a1a1a" stroke-width="0.3">Flagellin</text>
<path d="M146.30,689.6V687.6M142.50,687.6h7.6" stroke="#000" stroke-width="1.2" fill="none"/>
<rect x="140.6" y="689.6" width="11.40" height="9.40" fill="#b8042e"/>
<text transform="translate(147.00,708.00) rotate(-44.97)" font-size="7.7" text-anchor="end" font-weight="normal" fill="#1a1a1a" stroke="#1a1a1a" stroke-width="0.3">PBS</text>
<path d="M161.60,644.6V628M157.80,628h7.6" stroke="#000" stroke-width="1.2" fill="none"/>
<rect x="156" y="644.6" width="11.20" height="54.40" fill="#2b4c85"/>
<text transform="translate(160.80,708.00) rotate(-44.97)" font-size="7.7" text-anchor="end" font-weight="normal" fill="#1a1a1a" stroke="#1a1a1a" stroke-width="0.3">Flagellin</text>
<path d="M54,580.4V699H174" stroke="#000" stroke-width="1.3" fill="none"/>
<path d="M54,699h-3.6" stroke="#000" stroke-width="1.2"/>
<text transform="translate(47.70,701.90) rotate(0.03)" font-size="8.2" text-anchor="end" font-weight="normal" fill="#1a1a1a" stroke="#1a1a1a" stroke-width="0.12">0</text>
<path d="M54,669.8h-3.6" stroke="#000" stroke-width="1.2"/>
<text transform="translate(47.70,672.70) rotate(0.03)" font-size="8.2" text-anchor="end" font-weight="normal" fill="#1a1a1a" stroke="#1a1a1a" stroke-width="0.12">1</text>
<path d="M54,640.6h-3.6" stroke="#000" stroke-width="1.2"/>
<text transform="translate(47.70,643.50) rotate(0.03)" font-size="8.2" text-anchor="end" font-weight="normal" fill="#1a1a1a" stroke="#1a1a1a" stroke-width="0.12">2</text>
<path d="M54,611.4h-3.6" stroke="#000" stroke-width="1.2"/>
<text transform="translate(47.70,614.30) rotate(0.03)" font-size="8.2" text-anchor="end" font-weight="normal" fill="#1a1a1a" stroke="#1a1a1a" stroke-width="0.12">3</text>
<path d="M54,582h-3.6" stroke="#000" stroke-width="1.2"/>
<text transform="translate(47.70,584.90) rotate(0.03)" font-size="8.2" text-anchor="end" font-weight="normal" fill="#1a1a1a" stroke="#1a1a1a" stroke-width="0.12">4</text>
<text transform="translate(38.00,638.70) rotate(-89.97) scale(0.71,1)" font-size="10" text-anchor="middle" font-weight="normal" fill="#1a1a1a" stroke="#1a1a1a" stroke-width="0.3">LSK cell% in BM</text>
<path d="M61,592.5V586H82.4V592.5" stroke="#000" stroke-width="1.1" fill="none"/>
<text transform="translate(71.70,584.60) rotate(0.03)" font-size="8.8" text-anchor="middle" font-weight="bold" fill="#000" >*</text>
<path d="M105.6,662.5V657H122V662.5" stroke="#000" stroke-width="1.1" fill="none"/>
<text transform="translate(113.80,650.70) rotate(0.03)" font-size="9.5" text-anchor="middle" font-weight="normal" fill="#1a1a1a" stroke="#1a1a1a" stroke-width="0.3">ns</text>
<path d="M140,624V618H161.4V624" stroke="#000" stroke-width="1.1" fill="none"/>
<text transform="translate(150.70,616.60) rotate(0.03)" font-size="8.8" text-anchor="middle" font-weight="bold" fill="#000" >**</text>
<path d="M56,725.5v2.5q0,2 2,2H68.5q1.5,0 1.5,1.5v2.5v-2.5q0,-1.5 1.5,-1.5H82q2,0 2,-2v-2.5" stroke="#000" stroke-width="1.1" fill="none"/>
<text transform="translate(70.00,744.60) rotate(0.03)" font-size="8.4" text-anchor="middle" font-weight="normal" fill="#1a1a1a" stroke="#1a1a1a" stroke-width="0.12">WT</text>
<path d="M95.4,725.5v2.5q0,2 2,2H107.5q1.5,0 1.5,1.5v2.5v-2.5q0,-1.5 1.5,-1.5H121.4q2,0 2,-2v-2.5" stroke="#000" stroke-width="1.1" fill="none"/>
<text transform="translate(109.00,744.60) rotate(0.03)" font-size="8.4" text-anchor="middle" font-weight="normal" fill="#1a1a1a" stroke="#1a1a1a" stroke-width="0.12">T5 KO</text>
<path d="M133,725.5v2.5q0,2 2,2H145.1q1.5,0 1.5,1.5v2.5v-2.5q0,-1.5 1.5,-1.5H158.4q2,0 2,-2v-2.5" stroke="#000" stroke-width="1.1" fill="none"/>
<text transform="translate(146.60,744.60) rotate(0.03)" font-size="8.4" text-anchor="middle" font-weight="normal" fill="#1a1a1a" stroke="#1a1a1a" stroke-width="0.12">N4 KO</text>
<text transform="translate(188.80,578.80) rotate(0.03)" font-size="12.3" text-anchor="start" font-weight="bold" fill="#000" stroke="#000" stroke-width="0.5">F</text>
<path d="M259.30,666.4V660.4M255.50,660.4h7.6" stroke="#000" stroke-width="1.2" fill="none"/>
<rect x="253.6" y="666.4" width="11.40" height="32.60" fill="#b8042e"/>
<text transform="translate(260.40,708.00) rotate(-44.97)" font-size="7.7" text-anchor="end" font-weight="normal" fill="#1a1a1a" stroke="#1a1a1a" stroke-width="0.3">PBS</text>
<path d="M274.00,622.4V592M270.20,592h7.6" stroke="#000" stroke-width="1.2" fill="none"/>
<rect x="268.4" y="622.4" width="11.20" height="76.60" fill="#2b4c85"/>
<text transform="translate(274.40,708.00) rotate(-44.97)" font-size="7.7" text-anchor="end" font-weight="normal" fill="#1a1a1a" stroke="#1a1a1a" stroke-width="0.3">Flagellin</text>
<path d="M298.30,673.4V664.6M294.50,664.6h7.6" stroke="#000" stroke-width="1.2" fill="none"/>
<rect x="292.6" y="673.4" width="11.40" height="25.60" fill="#b8042e"/>
<text transform="translate(299.40,708.00) rotate(-44.97)" font-size="7.7" text-anchor="end" font-weight="normal" fill="#1a1a1a" stroke="#1a1a1a" stroke-width="0.3">PBS</text>
<path d="M313.00,673V671.4M309.20,671.4h7.6" stroke="#000" stroke-width="1.2" fill="none"/>
<rect x="307.4" y="673" width="11.20" height="26.00" fill="#2b4c85"/>
<text transform="translate(314.40,708.00) rotate(-44.97)" font-size="7.7" text-anchor="end" font-weight="normal" fill="#1a1a1a" stroke="#1a1a1a" stroke-width="0.3">Flagellin</text>
<path d="M337.60,688.4V683M333.80,683h7.6" stroke="#000" stroke-width="1.2" fill="none"/>
<rect x="332" y="688.4" width="11.20" height="10.60" fill="#b8042e"/>
<text transform="translate(339.40,708.00) rotate(-44.97)" font-size="7.7" text-anchor="end" font-weight="normal" fill="#1a1a1a" stroke="#1a1a1a" stroke-width="0.3">PBS</text>
<path d="M352.20,654.6V634.4M348.40,634.4h7.6" stroke="#000" stroke-width="1.2" fill="none"/>
<rect x="346.6" y="654.6" width="11.20" height="44.40" fill="#2b4c85"/>
<text transform="translate(354.40,708.00) rotate(-44.97)" font-size="7.7" text-anchor="end" font-weight="normal" fill="#1a1a1a" stroke="#1a1a1a" stroke-width="0.3">Flagellin</text>
<path d="M247,580.8V699H364" stroke="#000" stroke-width="1.3" fill="none"/>
<path d="M247,699h-3.6" stroke="#000" stroke-width="1.2"/>
<text transform="translate(240.70,701.90) rotate(0.03)" font-size="8.2" text-anchor="end" font-weight="normal" fill="#1a1a1a" stroke="#1a1a1a" stroke-width="0.12">0</text>
<path d="M247,660.4h-3.6" stroke="#000" stroke-width="1.2"/>
<text transform="translate(240.70,663.30) rotate(0.03)" font-size="8.2" text-anchor="end" font-weight="normal" fill="#1a1a1a" stroke="#1a1a1a" stroke-width="0.12">50000</text>
<path d="M247,621.4h-3.6" stroke="#000" stroke-width="1.2"/>
<text transform="translate(240.70,624.30) rotate(0.03)" font-size="8.2" text-anchor="end" font-weight="normal" fill="#1a1a1a" stroke="#1a1a1a" stroke-width="0.12">100000</text>
<path d="M247,582.4h-3.6" stroke="#000" stroke-width="1.2"/>
<text transform="translate(240.70,585.30) rotate(0.03)" font-size="8.2" text-anchor="end" font-weight="normal" fill="#1a1a1a" stroke="#1a1a1a" stroke-width="0.12">150000</text>
<text transform="translate(210.00,639.20) rotate(-89.97) scale(0.695,1)" font-size="10" text-anchor="middle" font-weight="normal" fill="#1a1a1a" stroke="#1a1a1a" stroke-width="0.3">BM LSK cell number</text>
<path d="M256,587.1V582.6H273V587.1" stroke="#000" stroke-width="1.1" fill="none"/>
<text transform="translate(264.50,581.20) rotate(0.03)" font-size="8.8" text-anchor="middle" font-weight="bold" fill="#000" >*</text>
<path d="M298.6,660.5V656H314.4V660.5" stroke="#000" stroke-width="1.1" fill="none"/>
<text transform="translate(306.50,649.70) rotate(0.03)" font-size="9.5" text-anchor="middle" font-weight="normal" fill="#1a1a1a" stroke="#1a1a1a" stroke-width="0.3">ns</text>
<path d="M336.6,630.1V624.6H351.4V630.1" stroke="#000" stroke-width="1.1" fill="none"/>
<text transform="translate(344.00,623.20) rotate(0.03)" font-size="8.8" text-anchor="middle" font-weight="bold" fill="#000" >*</text>
<path d="M249,725.5v2.5q0,2 2,2H261.5q1.5,0 1.5,1.5v2.5v-2.5q0,-1.5 1.5,-1.5H274.6q2,0 2,-2v-2.5" stroke="#000" stroke-width="1.1" fill="none"/>
<text transform="translate(263.00,744.60) rotate(0.03)" font-size="8.4" text-anchor="middle" font-weight="normal" fill="#1a1a1a" stroke="#1a1a1a" stroke-width="0.12">WT</text>
<path d="M288,725.5v2.5q0,2 2,2H299.9q1.5,0 1.5,1.5v2.5v-2.5q0,-1.5 1.5,-1.5H313.6q2,0 2,-2v-2.5" stroke="#000" stroke-width="1.1" fill="none"/>
<text transform="translate(301.40,744.60) rotate(0.03)" font-size="8.4" text-anchor="middle" font-weight="normal" fill="#1a1a1a" stroke="#1a1a1a" stroke-width="0.12">T5 KO</text>
<path d="M325.6,725.5v2.5q0,2 2,2H337.5q1.5,0 1.5,1.5v2.5v-2.5q0,-1.5 1.5,-1.5H351q2,0 2,-2v-2.5" stroke="#000" stroke-width="1.1" fill="none"/>
<text transform="translate(339.00,744.60) rotate(0.03)" font-size="8.4" text-anchor="middle" font-weight="normal" fill="#1a1a1a" stroke="#1a1a1a" stroke-width="0.12">N4 KO</text>
<path d="M0.6,0V757M519.5,0V757M0,0.6H520M0,756.5H520" stroke="#000" stroke-width="1.2" fill="none"/>
</svg>
</body></html>
